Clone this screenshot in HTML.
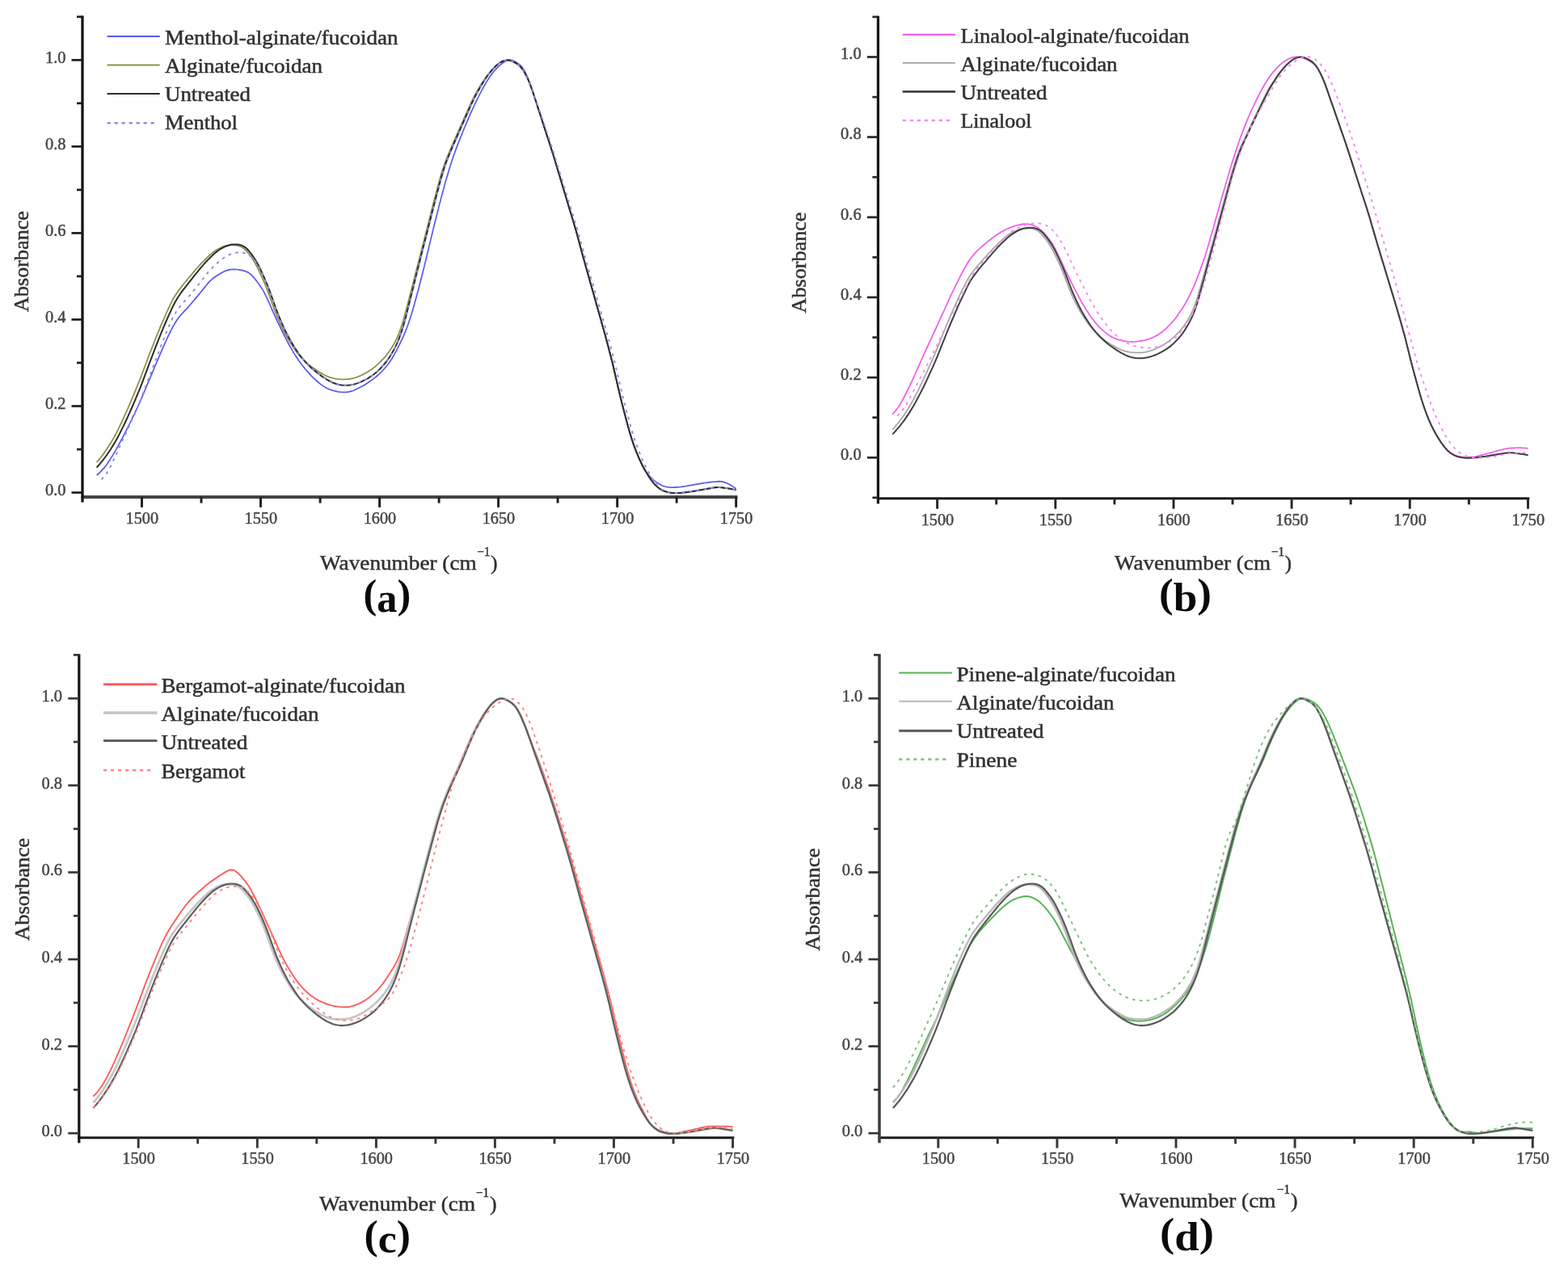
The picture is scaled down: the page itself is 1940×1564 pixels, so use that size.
<!DOCTYPE html>
<html lang="en">
<head>
<meta charset="utf-8">
<title>FTIR absorbance spectra</title>
<style>
html,body{margin:0;padding:0;background:#fff;}
body{width:1940px;height:1564px;overflow:hidden;}
svg{display:block;}
text{white-space:pre;}
</style>
</head>
<body>
<svg width="1940" height="1564" viewBox="0 0 1940 1564" role="img" aria-label="FTIR absorbance spectra, panels a to d">
<rect x="0" y="0" width="1940" height="1564" fill="#ffffff"/>
<g id="panel-a">
<g fill="none" stroke-linejoin="round" stroke-linecap="butt">
<path d="M119.6 588.1 L122.6 585.5 L125.5 582.6 L128.4 579.4 L131.4 575.7 L134.3 571.5 L137.3 566.9 L140.2 562.1 L143.2 557.1 L146.1 551.8 L149.0 546.3 L152.0 540.8 L154.9 535.1 L157.9 529.4 L160.8 523.5 L163.7 517.4 L166.7 511.3 L169.6 505.0 L172.6 498.5 L175.5 491.8 L178.4 484.8 L181.4 477.8 L184.3 470.9 L187.3 463.9 L190.2 457.0 L193.1 450.0 L196.1 443.1 L199.0 436.1 L202.0 429.3 L204.9 422.8 L207.8 416.5 L210.8 410.4 L213.7 404.7 L216.7 399.5 L219.6 395.0 L222.6 391.1 L225.5 387.8 L228.4 384.7 L231.4 381.6 L234.3 378.3 L237.3 374.8 L240.2 371.4 L243.1 367.9 L246.1 364.4 L249.0 360.8 L252.0 357.1 L254.9 353.5 L257.8 349.9 L260.8 346.8 L263.7 344.3 L266.7 342.2 L269.6 340.3 L272.5 338.5 L275.5 336.8 L278.4 335.4 L281.4 334.4 L284.3 333.7 L287.3 333.4 L290.2 333.3 L293.1 333.5 L296.1 333.9 L299.0 334.4 L302.0 335.1 L304.9 336.2 L307.8 337.6 L310.8 339.9 L313.7 343.1 L316.7 346.7 L319.6 350.6 L322.5 354.7 L325.5 359.4 L328.4 364.9 L331.4 371.1 L334.3 377.7 L337.2 384.5 L340.2 391.2 L343.1 397.6 L346.1 403.7 L349.0 409.7 L351.9 415.7 L354.9 421.4 L357.8 427.0 L360.8 432.2 L363.7 437.1 L366.7 441.7 L369.6 446.0 L372.5 450.0 L375.5 453.9 L378.4 457.5 L381.4 460.9 L384.3 464.1 L387.2 467.1 L390.2 469.9 L393.1 472.5 L396.1 474.9 L399.0 477.1 L401.9 478.9 L404.9 480.5 L407.8 481.8 L410.8 482.9 L413.7 483.7 L416.6 484.4 L419.6 484.9 L422.5 485.2 L425.5 485.3 L428.4 485.2 L431.3 484.8 L434.3 484.1 L437.2 483.2 L440.2 482.0 L443.1 480.6 L446.1 479.1 L449.0 477.5 L451.9 475.7 L454.9 473.8 L457.8 471.8 L460.8 469.6 L463.7 467.4 L466.6 465.0 L469.6 462.4 L472.5 459.5 L475.5 456.2 L478.4 452.7 L481.3 448.9 L484.3 444.7 L487.2 439.8 L490.2 434.3 L493.1 428.6 L496.0 422.6 L499.0 416.3 L501.9 409.3 L504.9 401.5 L507.8 392.7 L510.8 383.1 L513.7 372.8 L516.6 362.0 L519.6 350.8 L522.5 339.2 L525.5 327.4 L528.4 315.3 L531.3 303.1 L534.3 290.9 L537.2 278.8 L540.2 267.0 L543.1 255.4 L546.0 244.1 L549.0 233.0 L551.9 222.4 L554.9 212.4 L557.8 203.0 L560.7 194.2 L563.7 185.9 L566.6 178.1 L569.6 170.6 L572.5 163.3 L575.4 156.2 L578.4 149.2 L581.3 142.4 L584.3 135.8 L587.2 129.5 L590.2 123.4 L593.1 117.5 L596.0 111.8 L599.0 106.4 L601.9 101.4 L604.9 96.8 L607.8 92.6 L610.7 88.8 L613.7 85.3 L616.6 82.3 L619.6 79.8 L622.5 77.5 L625.4 75.7 L628.4 74.7 L631.3 74.3 L634.3 74.9 L637.2 76.2 L640.1 78.0 L643.1 80.1 L646.0 83.1 L649.0 87.7 L651.9 94.0 L654.9 101.3 L657.8 109.4 L660.7 118.2 L663.7 127.3 L666.6 136.4 L669.6 145.5 L672.5 154.6 L675.4 163.6 L678.4 172.6 L681.3 181.7 L684.3 191.0 L687.2 200.5 L690.1 210.3 L693.1 220.1 L696.0 230.0 L699.0 239.7 L701.9 249.5 L704.8 259.2 L707.8 269.0 L710.7 278.7 L713.7 289.0 L716.6 299.8 L719.5 310.8 L722.5 321.6 L725.4 332.0 L728.4 342.4 L731.3 352.9 L734.3 363.3 L737.2 373.7 L740.1 384.1 L743.1 394.5 L746.0 404.9 L749.0 415.5 L751.9 426.4 L754.8 437.5 L757.8 449.2 L760.7 461.8 L763.7 474.7 L766.6 487.1 L769.5 498.9 L772.5 510.4 L775.4 521.6 L778.4 532.3 L781.3 542.0 L784.2 550.8 L787.2 558.9 L790.1 566.3 L793.1 573.0 L796.0 578.7 L798.9 583.3 L801.9 587.1 L804.8 590.4 L807.8 593.3 L810.7 595.6 L813.7 597.6 L816.6 599.5 L819.5 601.0 L822.5 602.0 L825.4 602.6 L828.4 603.0 L831.3 603.2 L834.2 603.1 L837.2 602.8 L840.1 602.6 L843.1 602.3 L846.0 601.9 L848.9 601.5 L851.9 600.9 L854.8 600.4 L857.8 599.8 L860.7 599.3 L863.6 598.8 L866.6 598.3 L869.5 597.9 L872.5 597.5 L875.4 597.1 L878.4 596.7 L881.3 596.3 L884.2 596.0 L887.2 595.8 L890.1 595.6 L893.1 595.8 L896.0 596.6 L898.9 597.7 L901.9 599.1 L904.8 600.7 L907.8 602.6 L910.7 604.7" stroke="#5858f0" stroke-width="1.7"/>
<path d="M119.6 572.0 L122.6 568.7 L125.5 565.0 L128.4 561.1 L131.4 556.8 L134.3 552.3 L137.3 547.6 L140.2 542.6 L143.2 537.3 L146.1 531.6 L149.0 525.5 L152.0 519.2 L154.9 512.7 L157.9 506.1 L160.8 499.3 L163.7 492.3 L166.7 485.3 L169.6 478.2 L172.6 470.9 L175.5 463.3 L178.4 455.5 L181.4 447.6 L184.3 439.8 L187.3 432.2 L190.2 424.7 L193.1 417.4 L196.1 410.1 L199.0 402.9 L202.0 396.1 L204.9 389.5 L207.8 383.0 L210.8 376.7 L213.7 370.8 L216.7 365.7 L219.6 361.4 L222.6 357.4 L225.5 353.6 L228.4 350.0 L231.4 346.4 L234.3 342.8 L237.3 339.3 L240.2 335.9 L243.1 332.5 L246.1 329.2 L249.0 325.9 L252.0 322.9 L254.9 320.0 L257.8 317.2 L260.8 314.6 L263.7 312.1 L266.7 310.0 L269.6 308.2 L272.5 306.7 L275.5 305.3 L278.4 304.3 L281.4 303.6 L284.3 303.3 L287.3 303.2 L290.2 303.4 L293.1 303.7 L296.1 304.5 L299.0 305.7 L302.0 307.6 L304.9 310.4 L307.8 314.0 L310.8 318.0 L313.7 322.4 L316.7 327.5 L319.6 333.2 L322.5 339.5 L325.5 346.2 L328.4 353.2 L331.4 360.6 L334.3 368.6 L337.2 376.8 L340.2 384.9 L343.1 392.5 L346.1 399.3 L349.0 405.7 L351.9 411.5 L354.9 417.0 L357.8 421.9 L360.8 426.6 L363.7 431.0 L366.7 435.1 L369.6 438.9 L372.5 442.2 L375.5 445.2 L378.4 448.0 L381.4 450.6 L384.3 452.9 L387.2 455.1 L390.2 457.1 L393.1 459.1 L396.1 460.9 L399.0 462.6 L401.9 464.2 L404.9 465.6 L407.8 466.8 L410.8 467.7 L413.7 468.4 L416.6 468.8 L419.6 469.1 L422.5 469.3 L425.5 469.3 L428.4 469.2 L431.3 469.0 L434.3 468.6 L437.2 468.0 L440.2 467.1 L443.1 466.0 L446.1 464.8 L449.0 463.4 L451.9 461.8 L454.9 460.1 L457.8 458.2 L460.8 456.2 L463.7 454.0 L466.6 451.4 L469.6 448.6 L472.5 445.7 L475.5 442.7 L478.4 439.1 L481.3 435.2 L484.3 430.8 L487.2 426.0 L490.2 420.4 L493.1 413.8 L496.0 405.9 L499.0 396.6 L501.9 385.7 L504.9 374.5 L507.8 363.2 L510.8 351.8 L513.7 340.3 L516.6 328.8 L519.6 317.2 L522.5 305.6 L525.5 294.0 L528.4 282.4 L531.3 270.9 L534.3 259.3 L537.2 247.8 L540.2 236.5 L543.1 225.6 L546.0 215.3 L549.0 206.0 L551.9 197.8 L554.9 190.5 L557.8 183.7 L560.7 176.9 L563.7 170.2 L566.6 163.6 L569.6 156.9 L572.5 150.3 L575.4 143.7 L578.4 137.1 L581.3 130.6 L584.3 124.2 L587.2 118.3 L590.2 112.9 L593.1 107.9 L596.0 103.2 L599.0 98.7 L601.9 94.5 L604.9 90.7 L607.8 87.2 L610.7 83.9 L613.7 81.1 L616.6 78.8 L619.6 76.8 L622.5 75.4 L625.4 74.5 L628.4 74.3 L631.3 74.8 L634.3 76.0 L637.2 77.5 L640.1 79.3 L643.1 81.7 L646.0 85.0 L649.0 89.6 L651.9 95.2 L654.9 101.9 L657.8 109.6 L660.7 118.2 L663.7 127.3 L666.6 136.4 L669.6 145.5 L672.5 154.6 L675.4 163.6 L678.4 172.6 L681.3 181.7 L684.3 191.0 L687.2 200.5 L690.1 210.3 L693.1 220.1 L696.0 230.0 L699.0 239.7 L701.9 249.5 L704.8 259.2 L707.8 269.0 L710.7 278.7 L713.7 289.0 L716.6 299.8 L719.5 310.8 L722.5 321.6 L725.4 332.0 L728.4 342.4 L731.3 352.9 L734.3 363.3 L737.2 373.7 L740.1 384.1 L743.1 394.5 L746.0 404.9 L749.0 415.5 L751.9 426.4 L754.8 437.5 L757.8 449.2 L760.7 461.8 L763.7 474.7 L766.6 487.1 L769.5 498.9 L772.5 510.4 L775.4 521.6 L778.4 532.4 L781.3 542.1 L784.2 550.9 L787.2 558.7 L790.1 565.8 L793.1 572.2 L796.0 578.0 L798.9 583.3 L801.9 588.2 L804.8 592.7 L807.8 596.7 L810.7 600.1 L813.7 602.8 L816.6 605.0 L819.5 606.7 L822.5 607.9 L825.4 608.7 L828.4 609.4 L831.3 609.9 L834.2 610.0 L837.2 610.0 L840.1 610.0 L843.1 609.8 L846.0 609.5 L848.9 609.1 L851.9 608.7 L854.8 608.3 L857.8 607.8 L860.7 607.4 L863.6 606.8 L866.6 606.3 L869.5 605.8 L872.5 605.2 L875.4 604.7 L878.4 604.2 L881.3 603.7 L884.2 603.3 L887.2 603.1 L890.1 603.1 L893.1 603.3 L896.0 603.7 L898.9 604.1 L901.9 604.6 L904.8 605.1 L907.8 605.7 L910.7 606.3" stroke="#90904c" stroke-width="1.8"/>
<path d="M119.6 578.5 L122.6 575.2 L125.5 571.7 L128.4 568.0 L131.4 564.0 L134.3 559.7 L137.3 555.2 L140.2 550.5 L143.2 545.5 L146.1 540.2 L149.0 534.6 L152.0 528.6 L154.9 522.5 L157.9 516.2 L160.8 509.7 L163.7 503.0 L166.7 496.2 L169.6 489.2 L172.6 482.1 L175.5 474.6 L178.4 466.8 L181.4 458.9 L184.3 450.9 L187.3 443.1 L190.2 435.4 L193.1 427.9 L196.1 420.4 L199.0 413.1 L202.0 405.9 L204.9 399.0 L207.8 392.3 L210.8 385.8 L213.7 379.5 L216.7 373.7 L219.6 368.7 L222.6 364.3 L225.5 360.2 L228.4 356.4 L231.4 352.6 L234.3 348.8 L237.3 345.1 L240.2 341.4 L243.1 337.8 L246.1 334.2 L249.0 330.7 L252.0 327.2 L254.9 324.0 L257.8 320.9 L260.8 318.0 L263.7 315.1 L266.7 312.6 L269.6 310.3 L272.5 308.3 L275.5 306.6 L278.4 305.1 L281.4 304.0 L284.3 303.1 L287.3 302.6 L290.2 302.4 L293.1 302.4 L296.1 302.8 L299.0 303.6 L302.0 305.1 L304.9 307.2 L307.8 310.3 L310.8 314.1 L313.7 318.2 L316.7 322.8 L319.6 328.0 L322.5 333.9 L325.5 340.3 L328.4 347.1 L331.4 354.2 L334.3 361.8 L337.2 370.0 L340.2 378.3 L343.1 386.3 L346.1 393.8 L349.0 400.7 L351.9 407.1 L354.9 413.0 L357.8 418.6 L360.8 423.8 L363.7 428.7 L366.7 433.3 L369.6 437.7 L372.5 441.6 L375.5 445.2 L378.4 448.4 L381.4 451.5 L384.3 454.4 L387.2 457.0 L390.2 459.4 L393.1 461.7 L396.1 463.9 L399.0 466.1 L401.9 468.0 L404.9 469.9 L407.8 471.5 L410.8 473.0 L413.7 474.3 L416.6 475.3 L419.6 476.0 L422.5 476.5 L425.5 476.8 L428.4 476.8 L431.3 476.7 L434.3 476.3 L437.2 475.7 L440.2 474.9 L443.1 473.9 L446.1 472.7 L449.0 471.4 L451.9 469.9 L454.9 468.3 L457.8 466.4 L460.8 464.5 L463.7 462.3 L466.6 459.9 L469.6 457.0 L472.5 453.8 L475.5 450.5 L478.4 447.0 L481.3 442.8 L484.3 438.1 L487.2 432.9 L490.2 427.1 L493.1 420.4 L496.0 412.6 L499.0 403.5 L501.9 392.7 L504.9 381.1 L507.8 369.2 L510.8 357.4 L513.7 345.6 L516.6 333.9 L519.6 322.3 L522.5 310.6 L525.5 299.0 L528.4 287.5 L531.3 275.9 L534.3 264.3 L537.2 252.7 L540.2 241.3 L543.1 230.2 L546.0 219.6 L549.0 209.7 L551.9 201.1 L554.9 193.5 L557.8 186.5 L560.7 179.7 L563.7 173.0 L566.6 166.3 L569.6 159.6 L572.5 153.0 L575.4 146.4 L578.4 139.8 L581.3 133.2 L584.3 126.7 L587.2 120.6 L590.2 114.9 L593.1 109.7 L596.0 104.7 L599.0 100.0 L601.9 95.5 L604.9 91.5 L607.8 87.8 L610.7 84.5 L613.7 81.5 L616.6 79.0 L619.6 77.0 L622.5 75.5 L625.4 74.6 L628.4 74.3 L631.3 74.8 L634.3 76.0 L637.2 77.5 L640.1 79.3 L643.1 81.7 L646.0 85.0 L649.0 89.6 L651.9 95.2 L654.9 101.9 L657.8 109.6 L660.7 118.2 L663.7 127.3 L666.6 136.4 L669.6 145.5 L672.5 154.6 L675.4 163.6 L678.4 172.6 L681.3 181.7 L684.3 191.0 L687.2 200.5 L690.1 210.3 L693.1 220.1 L696.0 230.0 L699.0 239.7 L701.9 249.5 L704.8 259.2 L707.8 269.0 L710.7 278.7 L713.7 289.0 L716.6 299.8 L719.5 310.8 L722.5 321.6 L725.4 332.0 L728.4 342.4 L731.3 352.9 L734.3 363.3 L737.2 373.7 L740.1 384.1 L743.1 394.5 L746.0 404.9 L749.0 415.5 L751.9 426.4 L754.8 437.5 L757.8 449.2 L760.7 461.8 L763.7 474.7 L766.6 487.1 L769.5 498.9 L772.5 510.4 L775.4 521.6 L778.4 532.4 L781.3 542.1 L784.2 550.9 L787.2 558.7 L790.1 565.8 L793.1 572.2 L796.0 578.0 L798.9 583.3 L801.9 588.2 L804.8 592.7 L807.8 596.7 L810.7 600.1 L813.7 602.8 L816.6 605.0 L819.5 606.7 L822.5 607.9 L825.4 608.7 L828.4 609.4 L831.3 609.9 L834.2 610.0 L837.2 610.0 L840.1 610.0 L843.1 609.8 L846.0 609.5 L848.9 609.1 L851.9 608.7 L854.8 608.3 L857.8 607.8 L860.7 607.4 L863.6 606.8 L866.6 606.3 L869.5 605.8 L872.5 605.2 L875.4 604.7 L878.4 604.2 L881.3 603.7 L884.2 603.3 L887.2 603.1 L890.1 603.1 L893.1 603.3 L896.0 603.7 L898.9 604.1 L901.9 604.6 L904.8 605.1 L907.8 605.7 L910.7 606.3" stroke="#2c2c2c" stroke-width="2.0"/>
<path d="M125.5 593.4 L128.4 590.2 L131.4 586.5 L134.3 582.0 L137.3 576.3 L140.2 569.9 L143.2 563.5 L146.1 557.1 L149.0 550.6 L152.0 544.2 L154.9 537.8 L157.9 531.4 L160.8 524.9 L163.7 518.5 L166.7 512.0 L169.6 505.3 L172.6 498.2 L175.5 490.7 L178.4 482.9 L181.4 475.2 L184.3 467.4 L187.3 459.6 L190.2 451.9 L193.1 444.1 L196.1 436.4 L199.0 428.6 L202.0 421.0 L204.9 413.6 L207.8 406.5 L210.8 399.7 L213.7 393.4 L216.7 387.9 L219.6 383.3 L222.6 379.4 L225.5 376.0 L228.4 372.7 L231.4 369.4 L234.3 366.0 L237.3 362.4 L240.2 358.8 L243.1 355.2 L246.1 351.5 L249.0 347.8 L252.0 344.0 L254.9 340.2 L257.8 336.5 L260.8 333.2 L263.7 330.2 L266.7 327.4 L269.6 324.8 L272.5 322.3 L275.5 320.0 L278.4 318.0 L281.4 316.2 L284.3 314.8 L287.3 313.7 L290.2 313.0 L293.1 312.5 L296.1 312.3 L299.0 312.5 L302.0 313.0 L304.9 314.0 L307.8 315.7 L310.8 317.8 L313.7 320.6 L316.7 324.4 L319.6 329.1 L322.5 334.6 L325.5 340.6 L328.4 347.2 L331.4 354.2 L334.3 361.8 L337.2 370.0 L340.2 378.3 L343.1 386.4 L346.1 393.8 L349.0 400.6 L351.9 407.0 L354.9 413.0 L357.8 418.6 L360.8 423.8 L363.7 428.7 L366.7 433.3 L369.6 437.7 L372.5 441.6 L375.5 445.2 L378.4 448.4 L381.4 451.5 L384.3 454.4 L387.2 457.0 L390.2 459.4 L393.1 461.7 L396.1 463.9 L399.0 466.1 L401.9 468.0 L404.9 469.9 L407.8 471.5 L410.8 473.0 L413.7 474.3 L416.6 475.3 L419.6 476.0 L422.5 476.5 L425.5 476.8 L428.4 476.8 L431.3 476.7 L434.3 476.3 L437.2 475.7 L440.2 474.9 L443.1 473.9 L446.1 472.7 L449.0 471.4 L451.9 469.9 L454.9 468.3 L457.8 466.4 L460.8 464.5 L463.7 462.3 L466.6 459.9 L469.6 457.0 L472.5 453.8 L475.5 450.5 L478.4 447.0 L481.3 442.8 L484.3 438.1 L487.2 432.9 L490.2 427.1 L493.1 420.4 L496.0 412.6 L499.0 403.5 L501.9 392.7 L504.9 381.1 L507.8 369.2 L510.8 357.4 L513.7 345.6 L516.6 333.9 L519.6 322.3 L522.5 310.6 L525.5 299.0 L528.4 287.5 L531.3 275.9 L534.3 264.3 L537.2 252.7 L540.2 241.3 L543.1 230.2 L546.0 219.6 L549.0 209.7 L551.9 201.1 L554.9 193.5 L557.8 186.5 L560.7 179.7 L563.7 173.0 L566.6 166.3 L569.6 159.6 L572.5 153.0 L575.4 146.4 L578.4 139.8 L581.3 133.2 L584.3 126.7 L587.2 120.6 L590.2 114.9 L593.1 109.7 L596.0 104.7 L599.0 100.0 L601.9 95.5 L604.9 91.5 L607.8 87.8 L610.7 84.5 L613.7 81.5 L616.6 79.0 L619.6 77.0 L622.5 75.5 L625.4 74.6 L628.4 74.3 L631.3 74.8 L634.3 76.0 L637.2 77.5 L640.1 79.2 L643.1 81.5 L646.0 84.9 L649.0 89.8 L651.9 95.8 L654.9 102.7 L657.8 110.2 L660.7 118.2 L663.7 126.3 L666.6 134.5 L669.6 142.8 L672.5 151.3 L675.4 160.0 L678.4 168.7 L681.3 177.4 L684.3 186.5 L687.2 196.0 L690.1 205.5 L693.1 215.0 L696.0 224.5 L699.0 234.0 L701.9 243.5 L704.8 253.0 L707.8 262.6 L710.7 272.1 L713.7 281.6 L716.6 291.8 L719.5 302.5 L722.5 313.2 L725.4 323.6 L728.4 333.8 L731.3 344.0 L734.3 354.1 L737.2 364.3 L740.1 374.6 L743.1 384.8 L746.0 395.1 L749.0 405.3 L751.9 415.8 L754.8 426.5 L757.8 437.5 L760.7 448.9 L763.7 461.3 L766.6 474.0 L769.5 486.3 L772.5 498.0 L775.4 509.4 L778.4 520.4 L781.3 531.1 L784.2 540.8 L787.2 549.6 L790.1 557.5 L793.1 564.7 L796.0 571.3 L798.9 577.4 L801.9 583.1 L804.8 588.3 L807.8 593.2 L810.7 597.5 L813.7 600.9 L816.6 603.7 L819.5 605.9 L822.5 607.5 L825.4 608.4 L828.4 609.2 L831.3 609.8 L834.2 610.0 L837.2 610.0 L840.1 610.0 L843.1 609.8 L846.0 609.5 L848.9 609.1 L851.9 608.7 L854.8 608.3 L857.8 607.8 L860.7 607.4 L863.6 606.8 L866.6 606.3 L869.5 605.8 L872.5 605.2 L875.4 604.7 L878.4 604.2 L881.3 603.7 L884.2 603.3 L887.2 603.1 L890.1 603.1 L893.1 603.3 L896.0 603.7 L898.9 604.1 L901.9 604.6 L904.8 605.1 L907.8 605.7 L910.7 606.3" stroke="#8c8ce8" stroke-width="1.9" stroke-dasharray="3.6 5.4"/>
</g>
<g stroke-linecap="butt">
<line x1="100.5" y1="615.0" x2="912.5" y2="615.0" stroke="#444444" stroke-width="3.8"/>
<line x1="102.0" y1="19.6" x2="102.0" y2="621.5" stroke="#141414" stroke-width="3.3"/>
<line x1="88.5" y1="609.5" x2="102.0" y2="609.5" stroke="#1c1c1c" stroke-width="2.7"/>
<line x1="95.0" y1="556.0" x2="102.0" y2="556.0" stroke="#1c1c1c" stroke-width="2.7"/>
<line x1="88.5" y1="502.5" x2="102.0" y2="502.5" stroke="#1c1c1c" stroke-width="2.7"/>
<line x1="95.0" y1="448.9" x2="102.0" y2="448.9" stroke="#1c1c1c" stroke-width="2.7"/>
<line x1="88.5" y1="395.4" x2="102.0" y2="395.4" stroke="#1c1c1c" stroke-width="2.7"/>
<line x1="95.0" y1="341.9" x2="102.0" y2="341.9" stroke="#1c1c1c" stroke-width="2.7"/>
<line x1="88.5" y1="288.4" x2="102.0" y2="288.4" stroke="#1c1c1c" stroke-width="2.7"/>
<line x1="95.0" y1="234.9" x2="102.0" y2="234.9" stroke="#1c1c1c" stroke-width="2.7"/>
<line x1="88.5" y1="181.3" x2="102.0" y2="181.3" stroke="#1c1c1c" stroke-width="2.7"/>
<line x1="95.0" y1="127.8" x2="102.0" y2="127.8" stroke="#1c1c1c" stroke-width="2.7"/>
<line x1="88.5" y1="74.3" x2="102.0" y2="74.3" stroke="#1c1c1c" stroke-width="2.7"/>
<line x1="95.0" y1="20.8" x2="102.0" y2="20.8" stroke="#1c1c1c" stroke-width="2.7"/>
<line x1="175.5" y1="615.0" x2="175.5" y2="627.8" stroke="#1c1c1c" stroke-width="2.9"/>
<line x1="249.0" y1="615.0" x2="249.0" y2="622.5" stroke="#1c1c1c" stroke-width="2.9"/>
<line x1="322.5" y1="615.0" x2="322.5" y2="627.8" stroke="#1c1c1c" stroke-width="2.9"/>
<line x1="396.1" y1="615.0" x2="396.1" y2="622.5" stroke="#1c1c1c" stroke-width="2.9"/>
<line x1="469.6" y1="615.0" x2="469.6" y2="627.8" stroke="#1c1c1c" stroke-width="2.9"/>
<line x1="543.1" y1="615.0" x2="543.1" y2="622.5" stroke="#1c1c1c" stroke-width="2.9"/>
<line x1="616.6" y1="615.0" x2="616.6" y2="627.8" stroke="#1c1c1c" stroke-width="2.9"/>
<line x1="690.1" y1="615.0" x2="690.1" y2="622.5" stroke="#1c1c1c" stroke-width="2.9"/>
<line x1="763.7" y1="615.0" x2="763.7" y2="627.8" stroke="#1c1c1c" stroke-width="2.9"/>
<line x1="837.2" y1="615.0" x2="837.2" y2="622.5" stroke="#1c1c1c" stroke-width="2.9"/>
<line x1="910.7" y1="615.0" x2="910.7" y2="627.8" stroke="#1c1c1c" stroke-width="2.9"/>
</g>
<g font-family='"Liberation Serif", "DejaVu Serif", serif' font-size="21.5" fill="#454545" stroke="#454545" stroke-width="0.5">
<text x="81.5" y="613.1" text-anchor="end" textLength="25.5" lengthAdjust="spacingAndGlyphs">0.0</text>
<text x="81.5" y="506.1" text-anchor="end" textLength="25.5" lengthAdjust="spacingAndGlyphs">0.2</text>
<text x="81.5" y="399.0" text-anchor="end" textLength="25.5" lengthAdjust="spacingAndGlyphs">0.4</text>
<text x="81.5" y="292.0" text-anchor="end" textLength="25.5" lengthAdjust="spacingAndGlyphs">0.6</text>
<text x="81.5" y="184.9" text-anchor="end" textLength="25.5" lengthAdjust="spacingAndGlyphs">0.8</text>
<text x="81.5" y="77.9" text-anchor="end" textLength="25.5" lengthAdjust="spacingAndGlyphs">1.0</text>
<text x="175.8" y="647.8" text-anchor="middle" textLength="40.5" lengthAdjust="spacingAndGlyphs">1500</text>
<text x="322.8" y="647.8" text-anchor="middle" textLength="40.5" lengthAdjust="spacingAndGlyphs">1550</text>
<text x="469.9" y="647.8" text-anchor="middle" textLength="40.5" lengthAdjust="spacingAndGlyphs">1600</text>
<text x="616.9" y="647.8" text-anchor="middle" textLength="40.5" lengthAdjust="spacingAndGlyphs">1650</text>
<text x="764.0" y="647.8" text-anchor="middle" textLength="40.5" lengthAdjust="spacingAndGlyphs">1700</text>
<text x="911.0" y="647.8" text-anchor="middle" textLength="40.5" lengthAdjust="spacingAndGlyphs">1750</text>
</g>
<line x1="132.6" y1="45.1" x2="197.7" y2="45.1" stroke="#5858f0" stroke-width="2.0"/>
<line x1="132.6" y1="80.4" x2="197.7" y2="80.4" stroke="#90904c" stroke-width="2.0"/>
<line x1="132.6" y1="115.9" x2="197.7" y2="115.9" stroke="#2c2c2c" stroke-width="2.0"/>
<line x1="132.6" y1="152.2" x2="193.6" y2="152.2" stroke="#8c8ce8" stroke-width="2.4" stroke-dasharray="4.2 4.8"/>
<g font-family='"Liberation Serif", "DejaVu Serif", serif' font-size="25.3" fill="#303030" stroke="#303030" stroke-width="0.5">
<text x="204.0" y="55.0" textLength="288.5" lengthAdjust="spacingAndGlyphs">Menthol-alginate/fucoidan</text>
<text x="204.0" y="90.0" textLength="195.0" lengthAdjust="spacingAndGlyphs">Alginate/fucoidan</text>
<text x="204.0" y="125.2" textLength="106.0" lengthAdjust="spacingAndGlyphs">Untreated</text>
<text x="204.0" y="160.2" textLength="90.0" lengthAdjust="spacingAndGlyphs">Menthol</text>
</g>
<g font-family='"Liberation Serif", "DejaVu Serif", serif' fill="#303030" stroke="#303030" stroke-width="0.45">
<text transform="translate(34.5 323.5) rotate(-90)" text-anchor="middle" font-size="26" textLength="125.0" lengthAdjust="spacingAndGlyphs">Absorbance</text>
<text font-size="25.6"><tspan x="396.1" y="705.2" textLength="193.6" lengthAdjust="spacingAndGlyphs">Wavenumber (cm</tspan><tspan x="590.6" y="688.2" font-size="16" textLength="15.8" lengthAdjust="spacingAndGlyphs">−1</tspan><tspan x="607.1" y="705.2">)</tspan></text>
</g>
<text x="449.5" y="757.0" font-family='"Liberation Serif", "DejaVu Serif", serif' font-size="50" font-weight="bold" fill="#0a0a0a" textLength="58.7" lengthAdjust="spacingAndGlyphs"><tspan dy="-5">(</tspan><tspan dy="5">a</tspan><tspan dy="-5">)</tspan></text>
</g>
<g id="panel-b">
<g fill="none" stroke-linejoin="round" stroke-linecap="butt">
<path d="M1104.1 512.7 L1107.0 509.5 L1109.9 506.0 L1112.8 501.8 L1115.7 496.8 L1118.7 491.2 L1121.6 485.5 L1124.5 479.6 L1127.4 473.4 L1130.4 467.1 L1133.3 460.5 L1136.2 453.9 L1139.1 447.3 L1142.1 440.8 L1145.0 434.3 L1147.9 428.0 L1150.8 421.6 L1153.8 415.3 L1156.7 409.0 L1159.6 402.6 L1162.5 396.2 L1165.4 389.8 L1168.4 383.3 L1171.3 376.8 L1174.2 370.4 L1177.1 364.1 L1180.1 358.1 L1183.0 352.2 L1185.9 346.4 L1188.8 340.7 L1191.8 335.0 L1194.7 329.7 L1197.6 324.7 L1200.5 320.3 L1203.5 316.5 L1206.4 313.1 L1209.3 310.2 L1212.2 307.4 L1215.1 304.9 L1218.1 302.3 L1221.0 299.9 L1223.9 297.5 L1226.8 295.3 L1229.8 293.1 L1232.7 291.1 L1235.6 289.1 L1238.5 287.3 L1241.5 285.6 L1244.4 284.0 L1247.3 282.7 L1250.2 281.5 L1253.2 280.4 L1256.1 279.5 L1259.0 278.7 L1261.9 278.0 L1264.8 277.5 L1267.8 277.2 L1270.7 277.2 L1273.6 277.5 L1276.5 278.2 L1279.5 279.2 L1282.4 280.8 L1285.3 282.7 L1288.2 285.0 L1291.2 287.8 L1294.1 291.1 L1297.0 294.7 L1299.9 298.6 L1302.9 303.1 L1305.8 308.4 L1308.7 314.4 L1311.6 320.6 L1314.6 326.9 L1317.5 333.1 L1320.4 339.2 L1323.3 345.0 L1326.2 350.9 L1329.2 356.6 L1332.1 362.3 L1335.0 367.9 L1337.9 373.3 L1340.9 378.3 L1343.8 383.0 L1346.7 387.4 L1349.6 391.7 L1352.6 395.7 L1355.5 399.4 L1358.4 402.8 L1361.3 405.8 L1364.3 408.6 L1367.2 411.1 L1370.1 413.4 L1373.0 415.4 L1375.9 417.1 L1378.9 418.5 L1381.8 419.6 L1384.7 420.6 L1387.6 421.4 L1390.6 422.0 L1393.5 422.4 L1396.4 422.7 L1399.3 422.8 L1402.3 422.8 L1405.2 422.7 L1408.1 422.4 L1411.0 422.0 L1414.0 421.5 L1416.9 420.8 L1419.8 419.9 L1422.7 419.0 L1425.6 417.8 L1428.6 416.5 L1431.5 414.9 L1434.4 413.0 L1437.3 411.0 L1440.3 408.8 L1443.2 406.1 L1446.1 403.2 L1449.0 400.0 L1452.0 396.7 L1454.9 393.1 L1457.8 389.1 L1460.7 384.8 L1463.7 380.2 L1466.6 375.4 L1469.5 370.1 L1472.4 364.4 L1475.3 358.1 L1478.3 351.4 L1481.2 344.1 L1484.1 336.5 L1487.0 328.4 L1490.0 319.9 L1492.9 310.8 L1495.8 301.0 L1498.7 290.7 L1501.7 280.3 L1504.6 269.7 L1507.5 259.2 L1510.4 249.0 L1513.4 238.8 L1516.3 228.8 L1519.2 218.9 L1522.1 209.1 L1525.0 199.4 L1528.0 190.1 L1530.9 181.2 L1533.8 172.9 L1536.7 164.9 L1539.7 157.2 L1542.6 149.9 L1545.5 143.0 L1548.4 136.4 L1551.4 130.1 L1554.3 124.0 L1557.2 118.2 L1560.1 112.6 L1563.1 107.3 L1566.0 102.4 L1568.9 97.8 L1571.8 93.6 L1574.8 89.7 L1577.7 86.3 L1580.6 83.2 L1583.5 80.4 L1586.4 77.9 L1589.4 75.8 L1592.3 73.9 L1595.2 72.5 L1598.1 71.4 L1601.1 70.7 L1604.0 70.5 L1606.9 70.7 L1609.8 71.2 L1612.8 72.0 L1615.7 73.2 L1618.6 74.8 L1621.5 76.4 L1624.5 78.3 L1627.4 80.8 L1630.3 84.4 L1633.2 89.4 L1636.1 95.7 L1639.1 103.0 L1642.0 111.1 L1644.9 119.6 L1647.8 128.0 L1650.8 136.4 L1653.7 144.9 L1656.6 153.2 L1659.5 161.6 L1662.5 170.0 L1665.4 178.6 L1668.3 187.4 L1671.2 196.4 L1674.2 205.6 L1677.1 214.7 L1680.0 223.7 L1682.9 232.8 L1685.8 241.8 L1688.8 250.8 L1691.7 259.9 L1694.6 269.3 L1697.5 279.4 L1700.5 289.6 L1703.4 299.5 L1706.3 309.2 L1709.2 318.9 L1712.2 328.5 L1715.1 338.2 L1718.0 347.8 L1720.9 357.4 L1723.9 367.1 L1726.8 376.7 L1729.7 386.6 L1732.6 396.6 L1735.5 406.9 L1738.5 417.7 L1741.4 429.4 L1744.3 441.3 L1747.2 452.8 L1750.2 463.8 L1753.1 474.4 L1756.0 484.8 L1758.9 494.8 L1761.9 503.8 L1764.8 511.9 L1767.7 519.2 L1770.6 525.7 L1773.6 531.6 L1776.5 537.0 L1779.4 541.9 L1782.3 546.5 L1785.3 550.7 L1788.2 554.4 L1791.1 557.5 L1794.0 559.9 L1796.9 561.8 L1799.9 563.3 L1802.8 564.2 L1805.7 564.8 L1808.6 565.3 L1811.6 565.7 L1814.5 565.7 L1817.4 565.6 L1820.3 565.5 L1823.3 565.3 L1826.2 564.9 L1829.1 564.2 L1832.0 563.4 L1835.0 562.6 L1837.9 561.8 L1840.8 561.0 L1843.7 560.3 L1846.6 559.5 L1849.6 558.7 L1852.5 557.9 L1855.4 557.1 L1858.3 556.3 L1861.3 555.6 L1864.2 555.1 L1867.1 554.7 L1870.0 554.5 L1873.0 554.3 L1875.9 554.2 L1878.8 554.1 L1881.7 554.2 L1884.7 554.3 L1887.6 554.5 L1890.5 554.8" stroke="#f060f0" stroke-width="1.8"/>
<path d="M1104.1 531.5 L1107.0 528.4 L1109.9 525.0 L1112.8 521.3 L1115.7 517.4 L1118.7 513.2 L1121.6 508.8 L1124.5 504.2 L1127.4 499.3 L1130.4 494.0 L1133.3 488.4 L1136.2 482.6 L1139.1 476.6 L1142.1 470.4 L1145.0 464.1 L1147.9 457.7 L1150.8 451.2 L1153.8 444.6 L1156.7 437.8 L1159.6 430.8 L1162.5 423.6 L1165.4 416.2 L1168.4 409.0 L1171.3 402.0 L1174.2 395.1 L1177.1 388.2 L1180.1 381.5 L1183.0 374.9 L1185.9 368.5 L1188.8 362.4 L1191.8 356.4 L1194.7 350.6 L1197.6 345.1 L1200.5 340.4 L1203.5 336.4 L1206.4 332.7 L1209.3 329.2 L1212.2 325.8 L1215.1 322.5 L1218.1 319.2 L1221.0 316.0 L1223.9 312.8 L1226.8 309.7 L1229.8 306.6 L1232.7 303.6 L1235.6 300.7 L1238.5 298.0 L1241.5 295.5 L1244.4 293.0 L1247.3 290.8 L1250.2 288.8 L1253.2 287.2 L1256.1 285.7 L1259.0 284.5 L1261.9 283.5 L1264.8 282.9 L1267.8 282.6 L1270.7 282.5 L1273.6 282.7 L1276.5 283.0 L1279.5 283.7 L1282.4 284.8 L1285.3 286.6 L1288.2 289.2 L1291.2 292.6 L1294.1 296.2 L1297.0 300.3 L1299.9 305.0 L1302.9 310.3 L1305.8 316.1 L1308.7 322.3 L1311.6 328.8 L1314.6 335.6 L1317.5 343.1 L1320.4 350.7 L1323.3 358.2 L1326.2 365.2 L1329.2 371.6 L1332.1 377.4 L1335.0 382.9 L1337.9 387.9 L1340.9 392.5 L1343.8 396.8 L1346.7 400.9 L1349.6 404.7 L1352.6 408.1 L1355.5 411.2 L1358.4 414.0 L1361.3 416.6 L1364.3 419.0 L1367.2 421.2 L1370.1 423.2 L1373.0 425.1 L1375.9 426.9 L1378.9 428.6 L1381.8 430.2 L1384.7 431.7 L1387.6 433.0 L1390.6 434.1 L1393.5 434.9 L1396.4 435.5 L1399.3 435.9 L1402.3 436.2 L1405.2 436.3 L1408.1 436.4 L1411.0 436.3 L1414.0 436.1 L1416.9 435.7 L1419.8 435.1 L1422.7 434.3 L1425.6 433.3 L1428.6 432.1 L1431.5 430.8 L1434.4 429.4 L1437.3 427.8 L1440.3 426.0 L1443.2 424.2 L1446.1 422.1 L1449.0 419.8 L1452.0 417.2 L1454.9 414.5 L1457.8 411.7 L1460.7 408.4 L1463.7 404.7 L1466.6 400.7 L1469.5 396.2 L1472.4 391.0 L1475.3 384.9 L1478.3 377.7 L1481.2 369.0 L1484.1 358.9 L1487.0 348.5 L1490.0 338.0 L1492.9 327.5 L1495.8 316.9 L1498.7 306.2 L1501.7 295.5 L1504.6 284.7 L1507.5 274.0 L1510.4 263.3 L1513.4 252.5 L1516.3 241.9 L1519.2 231.2 L1522.1 220.7 L1525.0 210.6 L1528.0 201.1 L1530.9 192.4 L1533.8 184.9 L1536.7 178.1 L1539.7 171.8 L1542.6 165.6 L1545.5 159.4 L1548.4 153.2 L1551.4 147.0 L1554.3 140.9 L1557.2 134.8 L1560.1 128.7 L1563.1 122.7 L1566.0 116.7 L1568.9 111.3 L1571.8 106.3 L1574.8 101.7 L1577.7 97.3 L1580.6 93.1 L1583.5 89.2 L1586.4 85.7 L1589.4 82.4 L1592.3 79.4 L1595.2 76.8 L1598.1 74.6 L1601.1 72.8 L1604.0 71.5 L1606.9 70.7 L1609.8 70.5 L1612.8 71.0 L1615.7 72.1 L1618.6 73.5 L1621.5 75.1 L1624.5 77.4 L1627.4 80.4 L1630.3 84.6 L1633.2 89.9 L1636.1 96.0 L1639.1 103.1 L1642.0 111.1 L1644.9 119.6 L1647.8 128.0 L1650.8 136.4 L1653.7 144.9 L1656.6 153.2 L1659.5 161.6 L1662.5 170.0 L1665.4 178.6 L1668.3 187.4 L1671.2 196.4 L1674.2 205.6 L1677.1 214.7 L1680.0 223.7 L1682.9 232.8 L1685.8 241.8 L1688.8 250.8 L1691.7 259.9 L1694.6 269.3 L1697.5 279.4 L1700.5 289.6 L1703.4 299.5 L1706.3 309.2 L1709.2 318.9 L1712.2 328.5 L1715.1 338.2 L1718.0 347.8 L1720.9 357.4 L1723.9 367.1 L1726.8 376.7 L1729.7 386.6 L1732.6 396.6 L1735.5 406.9 L1738.5 417.7 L1741.4 429.4 L1744.3 441.3 L1747.2 452.8 L1750.2 463.8 L1753.1 474.4 L1756.0 484.8 L1758.9 494.8 L1761.9 503.8 L1764.8 511.9 L1767.7 519.2 L1770.6 525.7 L1773.6 531.7 L1776.5 537.0 L1779.4 541.9 L1782.3 546.5 L1785.3 550.6 L1788.2 554.4 L1791.1 557.5 L1794.0 560.0 L1796.9 562.0 L1799.9 563.6 L1802.8 564.7 L1805.7 565.5 L1808.6 566.1 L1811.6 566.5 L1814.5 566.7 L1817.4 566.7 L1820.3 566.6 L1823.3 566.5 L1826.2 566.2 L1829.1 565.8 L1832.0 565.5 L1835.0 565.1 L1837.9 564.7 L1840.8 564.2 L1843.7 563.7 L1846.6 563.2 L1849.6 562.7 L1852.5 562.2 L1855.4 561.7 L1858.3 561.3 L1861.3 560.8 L1864.2 560.5 L1867.1 560.3 L1870.0 560.2 L1873.0 560.5 L1875.9 560.8 L1878.8 561.2 L1881.7 561.7 L1884.7 562.1 L1887.6 562.6 L1890.5 563.2" stroke="#a4a4a4" stroke-width="1.7"/>
<path d="M1104.1 537.4 L1107.0 534.5 L1109.9 531.2 L1112.8 527.8 L1115.7 524.0 L1118.7 520.1 L1121.6 515.9 L1124.5 511.6 L1127.4 506.9 L1130.4 502.0 L1133.3 496.8 L1136.2 491.3 L1139.1 485.6 L1142.1 479.8 L1145.0 473.8 L1147.9 467.6 L1150.8 461.2 L1153.8 454.8 L1156.7 448.2 L1159.6 441.3 L1162.5 434.1 L1165.4 426.7 L1168.4 419.3 L1171.3 412.0 L1174.2 405.0 L1177.1 398.0 L1180.1 391.1 L1183.0 384.3 L1185.9 377.6 L1188.8 371.3 L1191.8 365.1 L1194.7 359.0 L1197.6 353.1 L1200.5 347.8 L1203.5 343.1 L1206.4 339.1 L1209.3 335.3 L1212.2 331.7 L1215.1 328.2 L1218.1 324.8 L1221.0 321.3 L1223.9 317.9 L1226.8 314.6 L1229.8 311.2 L1232.7 307.9 L1235.6 304.8 L1238.5 301.7 L1241.5 298.9 L1244.4 296.2 L1247.3 293.6 L1250.2 291.2 L1253.2 289.1 L1256.1 287.3 L1259.0 285.6 L1261.9 284.3 L1264.8 283.2 L1267.8 282.4 L1270.7 281.9 L1273.6 281.7 L1276.5 281.8 L1279.5 282.1 L1282.4 282.9 L1285.3 284.2 L1288.2 286.3 L1291.2 289.1 L1294.1 292.6 L1297.0 296.4 L1299.9 300.6 L1302.9 305.5 L1305.8 310.9 L1308.7 316.9 L1311.6 323.2 L1314.6 329.8 L1317.5 336.8 L1320.4 344.3 L1323.3 352.0 L1326.2 359.5 L1329.2 366.4 L1332.1 372.8 L1335.0 378.7 L1337.9 384.2 L1340.9 389.4 L1343.8 394.2 L1346.7 398.7 L1349.6 403.0 L1352.6 407.0 L1355.5 410.7 L1358.4 414.0 L1361.3 417.0 L1364.3 419.9 L1367.2 422.5 L1370.1 424.9 L1373.0 427.2 L1375.9 429.3 L1378.9 431.4 L1381.8 433.4 L1384.7 435.2 L1387.6 436.9 L1390.6 438.4 L1393.5 439.8 L1396.4 441.0 L1399.3 441.9 L1402.3 442.5 L1405.2 443.0 L1408.1 443.3 L1411.0 443.3 L1414.0 443.2 L1416.9 442.8 L1419.8 442.3 L1422.7 441.5 L1425.6 440.6 L1428.6 439.5 L1431.5 438.3 L1434.4 436.9 L1437.3 435.4 L1440.3 433.7 L1443.2 431.9 L1446.1 429.9 L1449.0 427.6 L1452.0 424.9 L1454.9 422.0 L1457.8 419.0 L1460.7 415.6 L1463.7 411.8 L1466.6 407.4 L1469.5 402.6 L1472.4 397.2 L1475.3 391.1 L1478.3 383.8 L1481.2 375.4 L1484.1 365.4 L1487.0 354.6 L1490.0 343.7 L1492.9 332.7 L1495.8 321.8 L1498.7 310.9 L1501.7 300.2 L1504.6 289.4 L1507.5 278.7 L1510.4 267.9 L1513.4 257.2 L1516.3 246.5 L1519.2 235.8 L1522.1 225.2 L1525.0 214.9 L1528.0 205.1 L1530.9 195.9 L1533.8 188.0 L1536.7 180.9 L1539.7 174.4 L1542.6 168.2 L1545.5 161.9 L1548.4 155.7 L1551.4 149.5 L1554.3 143.4 L1557.2 137.2 L1560.1 131.1 L1563.1 125.1 L1566.0 119.1 L1568.9 113.4 L1571.8 108.1 L1574.8 103.3 L1577.7 98.7 L1580.6 94.3 L1583.5 90.2 L1586.4 86.4 L1589.4 83.0 L1592.3 79.9 L1595.2 77.2 L1598.1 74.9 L1601.1 73.0 L1604.0 71.6 L1606.9 70.7 L1609.8 70.5 L1612.8 71.0 L1615.7 72.1 L1618.6 73.5 L1621.5 75.1 L1624.5 77.4 L1627.4 80.4 L1630.3 84.6 L1633.2 89.9 L1636.1 96.0 L1639.1 103.1 L1642.0 111.1 L1644.9 119.6 L1647.8 128.0 L1650.8 136.4 L1653.7 144.9 L1656.6 153.2 L1659.5 161.6 L1662.5 170.0 L1665.4 178.6 L1668.3 187.4 L1671.2 196.4 L1674.2 205.6 L1677.1 214.7 L1680.0 223.7 L1682.9 232.8 L1685.8 241.8 L1688.8 250.8 L1691.7 259.9 L1694.6 269.3 L1697.5 279.4 L1700.5 289.6 L1703.4 299.5 L1706.3 309.2 L1709.2 318.9 L1712.2 328.5 L1715.1 338.2 L1718.0 347.8 L1720.9 357.4 L1723.9 367.1 L1726.8 376.7 L1729.7 386.6 L1732.6 396.6 L1735.5 406.9 L1738.5 417.7 L1741.4 429.4 L1744.3 441.3 L1747.2 452.8 L1750.2 463.8 L1753.1 474.4 L1756.0 484.8 L1758.9 494.8 L1761.9 503.8 L1764.8 511.9 L1767.7 519.2 L1770.6 525.7 L1773.6 531.7 L1776.5 537.0 L1779.4 541.9 L1782.3 546.5 L1785.3 550.6 L1788.2 554.4 L1791.1 557.5 L1794.0 560.0 L1796.9 562.0 L1799.9 563.6 L1802.8 564.7 L1805.7 565.5 L1808.6 566.1 L1811.6 566.5 L1814.5 566.7 L1817.4 566.7 L1820.3 566.6 L1823.3 566.5 L1826.2 566.2 L1829.1 565.8 L1832.0 565.5 L1835.0 565.1 L1837.9 564.7 L1840.8 564.2 L1843.7 563.7 L1846.6 563.2 L1849.6 562.7 L1852.5 562.2 L1855.4 561.7 L1858.3 561.3 L1861.3 560.8 L1864.2 560.5 L1867.1 560.3 L1870.0 560.2 L1873.0 560.5 L1875.9 560.8 L1878.8 561.2 L1881.7 561.7 L1884.7 562.1 L1887.6 562.6 L1890.5 563.2" stroke="#404040" stroke-width="2.0"/>
<path d="M1109.9 514.6 L1112.8 511.8 L1115.7 508.7 L1118.7 504.8 L1121.6 500.0 L1124.5 494.5 L1127.4 489.0 L1130.4 483.4 L1133.3 477.8 L1136.2 472.2 L1139.1 466.7 L1142.1 461.1 L1145.0 455.5 L1147.9 449.8 L1150.8 444.0 L1153.8 438.1 L1156.7 432.2 L1159.6 426.2 L1162.5 420.1 L1165.4 413.9 L1168.4 407.6 L1171.3 401.5 L1174.2 395.7 L1177.1 390.0 L1180.1 384.4 L1183.0 378.7 L1185.9 373.1 L1188.8 367.4 L1191.8 361.8 L1194.7 356.1 L1197.6 350.5 L1200.5 344.8 L1203.5 339.7 L1206.4 335.4 L1209.3 331.7 L1212.2 328.2 L1215.1 324.7 L1218.1 321.2 L1221.0 317.8 L1223.9 314.5 L1226.8 311.2 L1229.8 307.9 L1232.7 304.7 L1235.6 301.5 L1238.5 298.4 L1241.5 295.5 L1244.4 292.7 L1247.3 290.1 L1250.2 287.7 L1253.2 285.6 L1256.1 283.8 L1259.0 282.2 L1261.9 280.8 L1264.8 279.6 L1267.8 278.5 L1270.7 277.7 L1273.6 277.1 L1276.5 276.6 L1279.5 276.4 L1282.4 276.2 L1285.3 276.3 L1288.2 276.8 L1291.2 277.6 L1294.1 278.7 L1297.0 280.2 L1299.9 282.4 L1302.9 285.2 L1305.8 288.6 L1308.7 292.5 L1311.6 296.9 L1314.6 301.9 L1317.5 307.4 L1320.4 313.5 L1323.3 319.7 L1326.2 326.0 L1329.2 332.2 L1332.1 338.2 L1335.0 344.0 L1337.9 349.9 L1340.9 355.6 L1343.8 361.3 L1346.7 366.9 L1349.6 372.4 L1352.6 377.5 L1355.5 382.5 L1358.4 387.2 L1361.3 391.7 L1364.3 396.0 L1367.2 399.9 L1370.1 403.5 L1373.0 406.9 L1375.9 410.1 L1378.9 413.0 L1381.8 415.8 L1384.7 418.3 L1387.6 420.6 L1390.6 422.4 L1393.5 424.0 L1396.4 425.4 L1399.3 426.6 L1402.3 427.6 L1405.2 428.4 L1408.1 429.0 L1411.0 429.6 L1414.0 430.0 L1416.9 430.3 L1419.8 430.4 L1422.7 430.3 L1425.6 430.1 L1428.6 429.7 L1431.5 429.1 L1434.4 428.4 L1437.3 427.5 L1440.3 426.3 L1443.2 424.8 L1446.1 423.2 L1449.0 421.5 L1452.0 419.4 L1454.9 417.0 L1457.8 414.1 L1460.7 411.0 L1463.7 407.6 L1466.6 403.7 L1469.5 399.1 L1472.4 393.9 L1475.3 388.1 L1478.3 381.8 L1481.2 375.0 L1484.1 367.6 L1487.0 359.6 L1490.0 350.6 L1492.9 340.7 L1495.8 330.0 L1498.7 319.2 L1501.7 308.3 L1504.6 297.3 L1507.5 286.1 L1510.4 274.8 L1513.4 263.3 L1516.3 251.8 L1519.2 240.3 L1522.1 229.1 L1525.0 218.6 L1528.0 208.8 L1530.9 199.8 L1533.8 191.4 L1536.7 183.5 L1539.7 176.0 L1542.6 168.7 L1545.5 161.9 L1548.4 155.6 L1551.4 149.8 L1554.3 144.4 L1557.2 139.1 L1560.1 133.8 L1563.1 128.6 L1566.0 123.5 L1568.9 118.5 L1571.8 113.5 L1574.8 108.6 L1577.7 103.7 L1580.6 99.0 L1583.5 94.7 L1586.4 90.9 L1589.4 87.4 L1592.3 84.1 L1595.2 81.3 L1598.1 78.8 L1601.1 76.7 L1604.0 74.8 L1606.9 73.1 L1609.8 71.8 L1612.8 70.8 L1615.7 70.2 L1618.6 70.3 L1621.5 70.8 L1624.5 71.9 L1627.4 73.6 L1630.3 75.9 L1633.2 78.7 L1636.1 82.2 L1639.1 86.4 L1642.0 91.5 L1644.9 97.4 L1647.8 103.8 L1650.8 110.7 L1653.7 118.1 L1656.6 125.9 L1659.5 133.8 L1662.5 141.8 L1665.4 150.0 L1668.3 158.4 L1671.2 166.9 L1674.2 175.5 L1677.1 184.3 L1680.0 193.4 L1682.9 202.5 L1685.8 211.8 L1688.8 221.2 L1691.7 230.6 L1694.6 240.1 L1697.5 249.6 L1700.5 259.5 L1703.4 269.6 L1706.3 279.7 L1709.2 289.8 L1712.2 299.9 L1715.1 310.0 L1718.0 320.1 L1720.9 330.2 L1723.9 340.3 L1726.8 350.6 L1729.7 361.3 L1732.6 372.4 L1735.5 383.4 L1738.5 394.3 L1741.4 405.2 L1744.3 416.1 L1747.2 427.0 L1750.2 437.8 L1753.1 447.9 L1756.0 457.4 L1758.9 466.5 L1761.9 475.5 L1764.8 484.1 L1767.7 492.3 L1770.6 500.2 L1773.6 507.7 L1776.5 514.8 L1779.4 521.4 L1782.3 527.6 L1785.3 533.3 L1788.2 538.6 L1791.1 543.4 L1794.0 547.7 L1796.9 551.4 L1799.9 554.7 L1802.8 557.5 L1805.7 559.9 L1808.6 561.8 L1811.6 563.2 L1814.5 564.4 L1817.4 565.3 L1820.3 566.0 L1823.3 566.3 L1826.2 566.4 L1829.1 566.5 L1832.0 566.5 L1835.0 566.4 L1837.9 566.2 L1840.8 565.9 L1843.7 565.5 L1846.6 565.1 L1849.6 564.7 L1852.5 564.2 L1855.4 563.7 L1858.3 563.0 L1861.3 562.4 L1864.2 561.8 L1867.1 561.2 L1870.0 560.9 L1873.0 560.6 L1875.9 560.4 L1878.8 560.3 L1881.7 560.2 L1884.7 560.1 L1887.6 560.2 L1890.5 560.3" stroke="#f48cf4" stroke-width="1.9" stroke-dasharray="3.6 5.4"/>
</g>
<g stroke-linecap="butt">
<line x1="1084.9" y1="616.8" x2="1892.3" y2="616.8" stroke="#1a1a1a" stroke-width="2.9"/>
<line x1="1086.4" y1="19.7" x2="1086.4" y2="623.3" stroke="#141414" stroke-width="3.2"/>
<line x1="1079.4" y1="615.8" x2="1086.4" y2="615.8" stroke="#262626" stroke-width="2.7"/>
<line x1="1072.9" y1="566.2" x2="1086.4" y2="566.2" stroke="#262626" stroke-width="2.7"/>
<line x1="1079.4" y1="516.6" x2="1086.4" y2="516.6" stroke="#262626" stroke-width="2.7"/>
<line x1="1072.9" y1="467.1" x2="1086.4" y2="467.1" stroke="#262626" stroke-width="2.7"/>
<line x1="1079.4" y1="417.5" x2="1086.4" y2="417.5" stroke="#262626" stroke-width="2.7"/>
<line x1="1072.9" y1="367.9" x2="1086.4" y2="367.9" stroke="#262626" stroke-width="2.7"/>
<line x1="1079.4" y1="318.4" x2="1086.4" y2="318.4" stroke="#262626" stroke-width="2.7"/>
<line x1="1072.9" y1="268.8" x2="1086.4" y2="268.8" stroke="#262626" stroke-width="2.7"/>
<line x1="1079.4" y1="219.2" x2="1086.4" y2="219.2" stroke="#262626" stroke-width="2.7"/>
<line x1="1072.9" y1="169.6" x2="1086.4" y2="169.6" stroke="#262626" stroke-width="2.7"/>
<line x1="1079.4" y1="120.1" x2="1086.4" y2="120.1" stroke="#262626" stroke-width="2.7"/>
<line x1="1072.9" y1="70.5" x2="1086.4" y2="70.5" stroke="#262626" stroke-width="2.7"/>
<line x1="1079.4" y1="20.9" x2="1086.4" y2="20.9" stroke="#262626" stroke-width="2.7"/>
<line x1="1159.6" y1="616.8" x2="1159.6" y2="629.6" stroke="#262626" stroke-width="2.9"/>
<line x1="1232.7" y1="616.8" x2="1232.7" y2="624.3" stroke="#262626" stroke-width="2.9"/>
<line x1="1305.8" y1="616.8" x2="1305.8" y2="629.6" stroke="#262626" stroke-width="2.9"/>
<line x1="1378.9" y1="616.8" x2="1378.9" y2="624.3" stroke="#262626" stroke-width="2.9"/>
<line x1="1452.0" y1="616.8" x2="1452.0" y2="629.6" stroke="#262626" stroke-width="2.9"/>
<line x1="1525.0" y1="616.8" x2="1525.0" y2="624.3" stroke="#262626" stroke-width="2.9"/>
<line x1="1598.1" y1="616.8" x2="1598.1" y2="629.6" stroke="#262626" stroke-width="2.9"/>
<line x1="1671.2" y1="616.8" x2="1671.2" y2="624.3" stroke="#262626" stroke-width="2.9"/>
<line x1="1744.3" y1="616.8" x2="1744.3" y2="629.6" stroke="#262626" stroke-width="2.9"/>
<line x1="1817.4" y1="616.8" x2="1817.4" y2="624.3" stroke="#262626" stroke-width="2.9"/>
<line x1="1890.5" y1="616.8" x2="1890.5" y2="629.6" stroke="#262626" stroke-width="2.9"/>
</g>
<g font-family='"Liberation Serif", "DejaVu Serif", serif' font-size="21.5" fill="#454545" stroke="#454545" stroke-width="0.5">
<text x="1065.6" y="569.0" text-anchor="end" textLength="25.5" lengthAdjust="spacingAndGlyphs">0.0</text>
<text x="1065.6" y="469.9" text-anchor="end" textLength="25.5" lengthAdjust="spacingAndGlyphs">0.2</text>
<text x="1065.6" y="370.7" text-anchor="end" textLength="25.5" lengthAdjust="spacingAndGlyphs">0.4</text>
<text x="1065.6" y="271.6" text-anchor="end" textLength="25.5" lengthAdjust="spacingAndGlyphs">0.6</text>
<text x="1065.6" y="172.4" text-anchor="end" textLength="25.5" lengthAdjust="spacingAndGlyphs">0.8</text>
<text x="1065.6" y="73.3" text-anchor="end" textLength="25.5" lengthAdjust="spacingAndGlyphs">1.0</text>
<text x="1159.9" y="649.5" text-anchor="middle" textLength="40.5" lengthAdjust="spacingAndGlyphs">1500</text>
<text x="1306.1" y="649.5" text-anchor="middle" textLength="40.5" lengthAdjust="spacingAndGlyphs">1550</text>
<text x="1452.3" y="649.5" text-anchor="middle" textLength="40.5" lengthAdjust="spacingAndGlyphs">1600</text>
<text x="1598.4" y="649.5" text-anchor="middle" textLength="40.5" lengthAdjust="spacingAndGlyphs">1650</text>
<text x="1744.6" y="649.5" text-anchor="middle" textLength="40.5" lengthAdjust="spacingAndGlyphs">1700</text>
<text x="1890.8" y="649.5" text-anchor="middle" textLength="40.5" lengthAdjust="spacingAndGlyphs">1750</text>
</g>
<line x1="1116.7" y1="42.9" x2="1181.9" y2="42.9" stroke="#f060f0" stroke-width="2.2"/>
<line x1="1116.7" y1="77.9" x2="1181.9" y2="77.9" stroke="#a4a4a4" stroke-width="1.8"/>
<line x1="1116.7" y1="113.4" x2="1181.9" y2="113.4" stroke="#404040" stroke-width="2.6"/>
<line x1="1116.7" y1="149.0" x2="1177.7" y2="149.0" stroke="#f48cf4" stroke-width="2.4" stroke-dasharray="4.2 4.8"/>
<g font-family='"Liberation Serif", "DejaVu Serif", serif' font-size="25.3" fill="#303030" stroke="#303030" stroke-width="0.5">
<text x="1188.5" y="53.0" textLength="283.0" lengthAdjust="spacingAndGlyphs">Linalool-alginate/fucoidan</text>
<text x="1188.5" y="88.0" textLength="194.0" lengthAdjust="spacingAndGlyphs">Alginate/fucoidan</text>
<text x="1188.5" y="123.0" textLength="107.0" lengthAdjust="spacingAndGlyphs">Untreated</text>
<text x="1188.5" y="158.0" textLength="88.0" lengthAdjust="spacingAndGlyphs">Linalool</text>
</g>
<g font-family='"Liberation Serif", "DejaVu Serif", serif' fill="#303030" stroke="#303030" stroke-width="0.45">
<text transform="translate(997.0 325.0) rotate(-90)" text-anchor="middle" font-size="26" textLength="125.0" lengthAdjust="spacingAndGlyphs">Absorbance</text>
<text font-size="25.6"><tspan x="1379.0" y="705.0" textLength="193.0" lengthAdjust="spacingAndGlyphs">Wavenumber (cm</tspan><tspan x="1573.0" y="688.0" font-size="16" textLength="16.0" lengthAdjust="spacingAndGlyphs">−1</tspan><tspan x="1589.5" y="705.0">)</tspan></text>
</g>
<text x="1434.0" y="755.5" font-family='"Liberation Serif", "DejaVu Serif", serif' font-size="50" font-weight="bold" fill="#0a0a0a" textLength="65.0" lengthAdjust="spacingAndGlyphs"><tspan dy="-5">(</tspan><tspan dy="5">b</tspan><tspan dy="-5">)</tspan></text>
</g>
<g id="panel-c">
<g fill="none" stroke-linejoin="round" stroke-linecap="butt">
<path d="M115.3 1356.5 L118.3 1353.7 L121.2 1350.4 L124.1 1346.5 L127.1 1341.9 L130.0 1336.9 L133.0 1331.6 L135.9 1326.0 L138.8 1319.9 L141.8 1313.4 L144.7 1306.7 L147.7 1299.8 L150.6 1292.9 L153.6 1285.8 L156.5 1278.5 L159.4 1271.0 L162.4 1263.6 L165.3 1256.1 L168.3 1248.5 L171.2 1240.8 L174.1 1232.9 L177.1 1224.8 L180.0 1217.1 L183.0 1209.6 L185.9 1202.2 L188.8 1194.9 L191.8 1187.7 L194.7 1180.5 L197.7 1173.5 L200.6 1166.8 L203.6 1160.6 L206.5 1155.1 L209.4 1150.2 L212.4 1145.6 L215.3 1141.0 L218.3 1136.6 L221.2 1132.2 L224.1 1128.0 L227.1 1123.9 L230.0 1120.0 L233.0 1116.4 L235.9 1113.1 L238.9 1110.0 L241.8 1107.1 L244.7 1104.4 L247.7 1101.7 L250.6 1099.2 L253.6 1096.6 L256.5 1094.2 L259.4 1092.0 L262.4 1089.9 L265.3 1087.9 L268.3 1085.9 L271.2 1083.9 L274.2 1082.0 L277.1 1080.1 L280.0 1078.3 L283.0 1076.8 L285.9 1076.2 L288.9 1076.5 L291.8 1078.2 L294.7 1080.7 L297.7 1083.7 L300.6 1087.1 L303.6 1090.7 L306.5 1094.6 L309.5 1099.3 L312.4 1104.8 L315.3 1110.5 L318.3 1116.5 L321.2 1122.7 L324.2 1129.0 L327.1 1135.4 L330.0 1141.8 L333.0 1148.2 L335.9 1154.6 L338.9 1161.1 L341.8 1167.7 L344.8 1174.3 L347.7 1180.7 L350.6 1186.7 L353.6 1192.1 L356.5 1197.2 L359.5 1202.1 L362.4 1206.7 L365.3 1211.1 L368.3 1215.1 L371.2 1218.8 L374.2 1222.1 L377.1 1225.2 L380.1 1228.0 L383.0 1230.5 L385.9 1232.7 L388.9 1234.8 L391.8 1236.6 L394.8 1238.3 L397.7 1239.7 L400.6 1240.9 L403.6 1242.0 L406.5 1243.0 L409.5 1243.9 L412.4 1244.6 L415.4 1245.2 L418.3 1245.6 L421.2 1245.9 L424.2 1246.1 L427.1 1246.2 L430.1 1246.0 L433.0 1245.6 L435.9 1244.9 L438.9 1244.0 L441.8 1242.9 L444.8 1241.6 L447.7 1240.1 L450.7 1238.4 L453.6 1236.5 L456.5 1234.4 L459.5 1232.0 L462.4 1229.4 L465.4 1226.6 L468.3 1223.6 L471.2 1220.2 L474.2 1216.4 L477.1 1212.2 L480.1 1207.8 L483.0 1203.1 L486.0 1198.5 L488.9 1193.6 L491.8 1187.8 L494.8 1180.8 L497.7 1171.9 L500.7 1161.8 L503.6 1151.5 L506.5 1141.0 L509.5 1130.6 L512.4 1120.3 L515.4 1110.2 L518.3 1100.1 L521.3 1090.0 L524.2 1079.8 L527.1 1069.7 L530.1 1059.3 L533.0 1048.6 L536.0 1037.7 L538.9 1026.9 L541.8 1016.3 L544.8 1006.3 L547.7 997.2 L550.7 989.2 L553.6 982.0 L556.5 975.3 L559.5 968.6 L562.4 962.1 L565.4 955.7 L568.3 949.3 L571.3 942.6 L574.2 935.6 L577.1 928.4 L580.1 921.3 L583.0 914.5 L586.0 908.1 L588.9 902.1 L591.8 896.5 L594.8 891.1 L597.7 886.0 L600.7 881.4 L603.6 877.2 L606.6 873.3 L609.5 870.1 L612.4 867.5 L615.4 865.5 L618.3 864.4 L621.3 864.2 L624.2 864.9 L627.1 866.2 L630.1 867.8 L633.0 869.6 L636.0 872.1 L638.9 876.0 L641.9 881.5 L644.8 887.8 L647.7 894.6 L650.7 901.7 L653.6 909.1 L656.6 916.4 L659.5 923.8 L662.4 931.3 L665.4 938.9 L668.3 946.7 L671.3 954.7 L674.2 962.8 L677.2 971.1 L680.1 979.6 L683.0 988.4 L686.0 997.3 L688.9 1006.4 L691.9 1015.7 L694.8 1025.0 L697.7 1034.4 L700.7 1043.9 L703.6 1053.5 L706.6 1063.5 L709.5 1073.8 L712.5 1084.4 L715.4 1095.2 L718.3 1105.9 L721.3 1116.4 L724.2 1126.8 L727.2 1137.1 L730.1 1147.5 L733.0 1157.9 L736.0 1168.2 L738.9 1178.6 L741.9 1188.9 L744.8 1199.3 L747.8 1209.8 L750.7 1220.7 L753.6 1231.9 L756.6 1243.9 L759.5 1256.6 L762.5 1269.5 L765.4 1281.9 L768.3 1293.9 L771.3 1305.8 L774.2 1317.4 L777.2 1328.3 L780.1 1338.0 L783.1 1346.6 L786.0 1354.2 L788.9 1361.1 L791.9 1367.4 L794.8 1373.2 L797.8 1378.8 L800.7 1384.2 L803.6 1389.0 L806.6 1392.7 L809.5 1395.2 L812.5 1397.1 L815.4 1398.5 L818.4 1399.5 L821.3 1400.4 L824.2 1401.3 L827.2 1401.9 L830.1 1402.2 L833.1 1402.2 L836.0 1402.0 L838.9 1401.7 L841.9 1401.1 L844.8 1400.5 L847.8 1399.8 L850.7 1399.2 L853.7 1398.5 L856.6 1397.9 L859.5 1397.3 L862.5 1396.6 L865.4 1396.0 L868.4 1395.3 L871.3 1394.7 L874.2 1394.1 L877.2 1393.8 L880.1 1393.7 L883.1 1393.6 L886.0 1393.6 L889.0 1393.6 L891.9 1393.6 L894.8 1393.6 L897.8 1393.7 L900.7 1393.8 L903.7 1393.9 L906.6 1394.1" stroke="#ff5c5c" stroke-width="1.9"/>
<path d="M115.3 1364.5 L118.3 1361.1 L121.2 1357.5 L124.1 1353.5 L127.1 1349.3 L130.0 1344.7 L133.0 1339.9 L135.9 1334.9 L138.8 1329.6 L141.8 1323.9 L144.7 1317.8 L147.7 1311.4 L150.6 1304.9 L153.6 1298.2 L156.5 1291.4 L159.4 1284.4 L162.4 1277.4 L165.3 1270.2 L168.3 1262.9 L171.2 1255.3 L174.1 1247.4 L177.1 1239.4 L180.0 1231.6 L183.0 1224.0 L185.9 1216.5 L188.8 1209.1 L191.8 1201.7 L194.7 1194.6 L197.7 1187.7 L200.6 1181.0 L203.6 1174.5 L206.5 1168.2 L209.4 1162.3 L212.4 1157.2 L215.3 1152.8 L218.3 1148.8 L221.2 1145.0 L224.1 1141.3 L227.1 1137.7 L230.0 1134.1 L233.0 1130.6 L235.9 1127.2 L238.9 1123.8 L241.8 1120.4 L244.7 1117.1 L247.7 1114.1 L250.6 1111.2 L253.6 1108.4 L256.5 1105.7 L259.4 1103.3 L262.4 1101.2 L265.3 1099.4 L268.3 1097.8 L271.2 1096.4 L274.2 1095.4 L277.1 1094.7 L280.0 1094.4 L283.0 1094.3 L285.9 1094.5 L288.9 1094.8 L291.8 1095.6 L294.7 1096.8 L297.7 1098.7 L300.6 1101.5 L303.6 1105.0 L306.5 1108.8 L309.5 1113.0 L312.4 1117.6 L315.3 1122.9 L318.3 1128.7 L321.2 1135.0 L324.2 1141.7 L327.1 1148.8 L330.0 1156.7 L333.0 1165.0 L335.9 1173.3 L338.9 1181.1 L341.8 1188.2 L344.8 1194.7 L347.7 1200.8 L350.6 1206.4 L353.6 1211.6 L356.5 1216.4 L359.5 1220.9 L362.4 1225.1 L365.3 1229.0 L368.3 1232.6 L371.2 1235.7 L374.2 1238.6 L377.1 1241.4 L380.1 1243.9 L383.0 1246.2 L385.9 1248.3 L388.9 1250.4 L391.8 1252.3 L394.8 1254.1 L397.7 1255.8 L400.6 1257.3 L403.6 1258.6 L406.5 1259.6 L409.5 1260.3 L412.4 1260.8 L415.4 1261.1 L418.3 1261.2 L421.2 1261.3 L424.2 1261.2 L427.1 1261.0 L430.1 1260.6 L433.0 1259.9 L435.9 1259.0 L438.9 1258.0 L441.8 1256.7 L444.8 1255.3 L447.7 1253.7 L450.7 1252.0 L453.6 1250.1 L456.5 1248.1 L459.5 1245.8 L462.4 1243.3 L465.4 1240.5 L468.3 1237.6 L471.2 1234.5 L474.2 1231.0 L477.1 1227.0 L480.1 1222.5 L483.0 1217.7 L486.0 1212.0 L488.9 1205.4 L491.8 1197.5 L494.8 1188.1 L497.7 1177.3 L500.7 1166.1 L503.6 1155.0 L506.5 1143.8 L509.5 1132.6 L512.4 1121.4 L515.4 1110.2 L518.3 1099.0 L521.3 1087.7 L524.2 1076.5 L527.1 1065.3 L530.1 1054.1 L533.0 1043.0 L536.0 1032.1 L538.9 1021.6 L541.8 1011.7 L544.8 1002.4 L547.7 994.0 L550.7 986.4 L553.6 979.3 L556.5 972.5 L559.5 965.9 L562.4 959.5 L565.4 953.1 L568.3 946.6 L571.3 939.8 L574.2 932.7 L577.1 925.5 L580.1 918.5 L583.0 911.9 L586.0 905.9 L588.9 900.2 L591.8 894.8 L594.8 889.6 L597.7 884.8 L600.7 880.4 L603.6 876.4 L606.6 872.7 L609.5 869.7 L612.4 867.2 L615.4 865.4 L618.3 864.4 L621.3 864.2 L624.2 864.9 L627.1 866.2 L630.1 867.9 L633.0 869.8 L636.0 872.4 L638.9 876.1 L641.9 881.1 L644.8 887.0 L647.7 893.7 L650.7 901.1 L653.6 909.1 L656.6 917.5 L659.5 925.8 L662.4 934.1 L665.4 942.4 L668.3 950.7 L671.3 959.0 L674.2 967.3 L677.2 975.7 L680.1 984.0 L683.0 992.8 L686.0 1001.9 L688.9 1011.3 L691.9 1020.8 L694.8 1030.3 L697.7 1039.9 L700.7 1049.5 L703.6 1059.5 L706.6 1069.7 L709.5 1080.4 L712.5 1091.2 L715.4 1102.1 L718.3 1112.8 L721.3 1123.3 L724.2 1133.8 L727.2 1144.2 L730.1 1154.7 L733.0 1165.2 L736.0 1175.6 L738.9 1186.1 L741.9 1196.6 L744.8 1207.2 L747.8 1218.1 L750.7 1229.3 L753.6 1241.0 L756.6 1253.7 L759.5 1266.7 L762.5 1279.1 L765.4 1291.0 L768.3 1302.6 L771.3 1313.9 L774.2 1324.7 L777.2 1334.5 L780.1 1343.3 L783.1 1351.2 L786.0 1358.3 L788.9 1364.7 L791.9 1370.5 L794.8 1375.8 L797.8 1380.8 L800.7 1385.3 L803.6 1389.4 L806.6 1392.7 L809.5 1395.4 L812.5 1397.7 L815.4 1399.4 L818.4 1400.6 L821.3 1401.4 L824.2 1402.1 L827.2 1402.6 L830.1 1402.7 L833.1 1402.7 L836.0 1402.7 L838.9 1402.5 L841.9 1402.2 L844.8 1401.8 L847.8 1401.4 L850.7 1401.0 L853.7 1400.5 L856.6 1400.0 L859.5 1399.5 L862.5 1399.0 L865.4 1398.4 L868.4 1397.9 L871.3 1397.4 L874.2 1396.8 L877.2 1396.4 L880.1 1396.0 L883.1 1395.7 L886.0 1395.7 L889.0 1396.0 L891.9 1396.4 L894.8 1396.8 L897.8 1397.3 L900.7 1397.8 L903.7 1398.3 L906.6 1399.0" stroke="#c6c6c6" stroke-width="2.8"/>
<path d="M115.3 1371.0 L118.3 1367.7 L121.2 1364.2 L124.1 1360.5 L127.1 1356.4 L130.0 1352.2 L133.0 1347.7 L135.9 1342.9 L138.8 1337.9 L141.8 1332.6 L144.7 1326.9 L147.7 1320.9 L150.6 1314.8 L153.6 1308.4 L156.5 1301.9 L159.4 1295.1 L162.4 1288.3 L165.3 1281.3 L168.3 1274.1 L171.2 1266.6 L174.1 1258.8 L177.1 1250.8 L180.0 1242.7 L183.0 1234.9 L185.9 1227.2 L188.8 1219.6 L191.8 1212.2 L194.7 1204.8 L197.7 1197.6 L200.6 1190.6 L203.6 1183.9 L206.5 1177.3 L209.4 1171.0 L212.4 1165.1 L215.3 1160.1 L218.3 1155.7 L221.2 1151.6 L224.1 1147.7 L227.1 1143.9 L230.0 1140.2 L233.0 1136.4 L235.9 1132.7 L238.9 1129.1 L241.8 1125.5 L244.7 1121.9 L247.7 1118.4 L250.6 1115.2 L253.6 1112.1 L256.5 1109.1 L259.4 1106.3 L262.4 1103.7 L265.3 1101.4 L268.3 1099.5 L271.2 1097.7 L274.2 1096.2 L277.1 1095.1 L280.0 1094.2 L283.0 1093.7 L285.9 1093.5 L288.9 1093.5 L291.8 1093.9 L294.7 1094.7 L297.7 1096.2 L300.6 1098.4 L303.6 1101.4 L306.5 1105.0 L309.5 1108.9 L312.4 1113.2 L315.3 1118.0 L318.3 1123.4 L321.2 1129.4 L324.2 1135.9 L327.1 1142.7 L330.0 1150.0 L333.0 1158.0 L335.9 1166.4 L338.9 1174.7 L341.8 1182.5 L344.8 1189.5 L347.7 1196.1 L350.6 1202.3 L353.6 1208.1 L356.5 1213.5 L359.5 1218.5 L362.4 1223.2 L365.3 1227.7 L368.3 1231.9 L371.2 1235.7 L374.2 1239.0 L377.1 1242.2 L380.1 1245.2 L383.0 1248.0 L385.9 1250.5 L388.9 1252.9 L391.8 1255.3 L394.8 1257.5 L397.7 1259.6 L400.6 1261.5 L403.6 1263.3 L406.5 1264.8 L409.5 1266.1 L412.4 1267.2 L415.4 1268.0 L418.3 1268.5 L421.2 1268.8 L424.2 1268.9 L427.1 1268.7 L430.1 1268.3 L433.0 1267.7 L435.9 1266.9 L438.9 1265.9 L441.8 1264.7 L444.8 1263.4 L447.7 1261.9 L450.7 1260.2 L453.6 1258.4 L456.5 1256.4 L459.5 1254.2 L462.4 1251.8 L465.4 1248.9 L468.3 1245.7 L471.2 1242.4 L474.2 1238.8 L477.1 1234.6 L480.1 1229.9 L483.0 1224.7 L486.0 1218.7 L488.9 1211.9 L491.8 1204.0 L494.8 1194.8 L497.7 1184.3 L500.7 1172.9 L503.6 1161.2 L506.5 1149.5 L509.5 1137.9 L512.4 1126.4 L515.4 1115.1 L518.3 1103.8 L521.3 1092.5 L524.2 1081.3 L527.1 1070.1 L530.1 1058.9 L533.0 1047.8 L536.0 1036.8 L538.9 1026.1 L541.8 1015.9 L544.8 1006.2 L547.7 997.4 L550.7 989.5 L553.6 982.2 L556.5 975.3 L559.5 968.6 L562.4 962.1 L565.4 955.7 L568.3 949.3 L571.3 942.6 L574.2 935.6 L577.1 928.4 L580.1 921.3 L583.0 914.5 L586.0 908.1 L588.9 902.1 L591.8 896.5 L594.8 891.1 L597.7 886.0 L600.7 881.4 L603.6 877.2 L606.6 873.3 L609.5 870.1 L612.4 867.5 L615.4 865.5 L618.3 864.4 L621.3 864.2 L624.2 864.9 L627.1 866.2 L630.1 867.9 L633.0 869.8 L636.0 872.4 L638.9 876.1 L641.9 881.1 L644.8 887.0 L647.7 893.7 L650.7 901.1 L653.6 909.1 L656.6 917.5 L659.5 925.8 L662.4 934.1 L665.4 942.4 L668.3 950.7 L671.3 959.0 L674.2 967.3 L677.2 975.7 L680.1 984.0 L683.0 992.8 L686.0 1001.9 L688.9 1011.3 L691.9 1020.8 L694.8 1030.3 L697.7 1039.9 L700.7 1049.5 L703.6 1059.5 L706.6 1069.7 L709.5 1080.4 L712.5 1091.2 L715.4 1102.1 L718.3 1112.8 L721.3 1123.3 L724.2 1133.8 L727.2 1144.2 L730.1 1154.7 L733.0 1165.2 L736.0 1175.6 L738.9 1186.1 L741.9 1196.6 L744.8 1207.2 L747.8 1218.1 L750.7 1229.3 L753.6 1241.0 L756.6 1253.7 L759.5 1266.7 L762.5 1279.1 L765.4 1291.0 L768.3 1302.6 L771.3 1313.9 L774.2 1324.7 L777.2 1334.5 L780.1 1343.3 L783.1 1351.2 L786.0 1358.3 L788.9 1364.7 L791.9 1370.5 L794.8 1375.8 L797.8 1380.8 L800.7 1385.3 L803.6 1389.4 L806.6 1392.7 L809.5 1395.4 L812.5 1397.7 L815.4 1399.4 L818.4 1400.6 L821.3 1401.4 L824.2 1402.1 L827.2 1402.6 L830.1 1402.7 L833.1 1402.7 L836.0 1402.7 L838.9 1402.5 L841.9 1402.2 L844.8 1401.8 L847.8 1401.4 L850.7 1401.0 L853.7 1400.5 L856.6 1400.0 L859.5 1399.5 L862.5 1399.0 L865.4 1398.4 L868.4 1397.9 L871.3 1397.4 L874.2 1396.8 L877.2 1396.4 L880.1 1396.0 L883.1 1395.7 L886.0 1395.7 L889.0 1396.0 L891.9 1396.4 L894.8 1396.8 L897.8 1397.3 L900.7 1397.8 L903.7 1398.3 L906.6 1399.0" stroke="#5e5e5e" stroke-width="2.2"/>
<path d="M115.3 1371.0 L118.3 1367.9 L121.2 1364.6 L124.1 1361.1 L127.1 1357.3 L130.0 1353.2 L133.0 1348.9 L135.9 1344.3 L138.8 1339.5 L141.8 1334.4 L144.7 1329.0 L147.7 1323.2 L150.6 1317.3 L153.6 1311.2 L156.5 1304.8 L159.4 1298.3 L162.4 1291.7 L165.3 1284.9 L168.3 1278.0 L171.2 1270.7 L174.1 1263.2 L177.1 1255.4 L180.0 1247.5 L183.0 1239.9 L185.9 1232.4 L188.8 1225.1 L191.8 1217.8 L194.7 1210.6 L197.7 1203.5 L200.6 1196.7 L203.6 1190.1 L206.5 1183.7 L209.4 1177.4 L212.4 1171.6 L215.3 1166.5 L218.3 1162.1 L221.2 1158.1 L224.1 1154.3 L227.1 1150.5 L230.0 1146.8 L233.0 1143.2 L235.9 1139.6 L238.9 1136.1 L241.8 1132.5 L244.7 1129.0 L247.7 1125.5 L250.6 1122.1 L253.6 1118.8 L256.5 1115.5 L259.4 1112.3 L262.4 1109.3 L265.3 1106.8 L268.3 1104.6 L271.2 1102.6 L274.2 1100.9 L277.1 1099.4 L280.0 1098.3 L283.0 1097.5 L285.9 1097.0 L288.9 1096.7 L291.8 1096.5 L294.7 1096.6 L297.7 1097.1 L300.6 1098.2 L303.6 1100.3 L306.5 1103.1 L309.5 1106.2 L312.4 1109.7 L315.3 1113.6 L318.3 1118.0 L321.2 1123.0 L324.2 1128.5 L327.1 1134.6 L330.0 1141.2 L333.0 1148.6 L335.9 1156.6 L338.9 1164.7 L341.8 1172.5 L344.8 1179.4 L347.7 1186.0 L350.6 1192.2 L353.6 1198.1 L356.5 1203.6 L359.5 1208.6 L362.4 1213.4 L365.3 1217.8 L368.3 1222.0 L371.2 1225.9 L374.2 1229.3 L377.1 1232.6 L380.1 1235.7 L383.0 1238.6 L385.9 1241.3 L388.9 1243.9 L391.8 1246.4 L394.8 1248.8 L397.7 1251.1 L400.6 1253.3 L403.6 1255.2 L406.5 1257.0 L409.5 1258.5 L412.4 1259.8 L415.4 1260.8 L418.3 1261.6 L421.2 1262.1 L424.2 1262.5 L427.1 1262.7 L430.1 1262.7 L433.0 1262.5 L435.9 1262.2 L438.9 1261.6 L441.8 1260.9 L444.8 1259.8 L447.7 1258.5 L450.7 1256.9 L453.6 1255.2 L456.5 1253.3 L459.5 1251.5 L462.4 1249.7 L465.4 1247.7 L468.3 1245.7 L471.2 1243.6 L474.2 1241.3 L477.1 1239.0 L480.1 1236.5 L483.0 1233.3 L486.0 1228.7 L488.9 1223.1 L491.8 1216.7 L494.8 1209.6 L497.7 1202.1 L500.7 1194.1 L503.6 1185.4 L506.5 1175.9 L509.5 1165.5 L512.4 1154.5 L515.4 1143.3 L518.3 1132.1 L521.3 1120.6 L524.2 1109.0 L527.1 1097.2 L530.1 1085.3 L533.0 1073.4 L536.0 1061.5 L538.9 1049.8 L541.8 1038.3 L544.8 1026.9 L547.7 1015.7 L550.7 1004.5 L553.6 993.3 L556.5 982.3 L559.5 971.8 L562.4 962.1 L565.4 953.7 L568.3 946.4 L571.3 939.5 L574.2 932.8 L577.1 926.2 L580.1 919.8 L583.0 913.7 L586.0 907.9 L588.9 902.5 L591.8 897.4 L594.8 892.7 L597.7 888.4 L600.7 884.5 L603.6 881.1 L606.6 878.0 L609.5 875.2 L612.4 872.8 L615.4 870.7 L618.3 868.8 L621.3 867.2 L624.2 865.8 L627.1 864.8 L630.1 864.3 L633.0 864.4 L636.0 865.6 L638.9 867.4 L641.9 869.9 L644.8 873.2 L647.7 877.7 L650.7 883.1 L653.6 889.5 L656.6 896.6 L659.5 904.5 L662.4 913.0 L665.4 921.6 L668.3 930.4 L671.3 939.5 L674.2 948.9 L677.2 958.2 L680.1 967.7 L683.0 977.2 L686.0 986.8 L688.9 996.4 L691.9 1006.1 L694.8 1015.9 L697.7 1025.8 L700.7 1035.9 L703.6 1046.2 L706.6 1056.8 L709.5 1067.6 L712.5 1078.3 L715.4 1089.1 L718.3 1099.8 L721.3 1110.6 L724.2 1121.4 L727.2 1132.1 L730.1 1142.9 L733.0 1153.6 L736.0 1164.4 L738.9 1175.2 L741.9 1185.9 L744.8 1196.9 L747.8 1208.3 L750.7 1219.7 L753.6 1231.1 L756.6 1242.3 L759.5 1253.5 L762.5 1264.7 L765.4 1275.8 L768.3 1286.6 L771.3 1296.9 L774.2 1306.7 L777.2 1316.1 L780.1 1325.0 L783.1 1333.3 L786.0 1341.0 L788.9 1348.4 L791.9 1355.5 L794.8 1362.2 L797.8 1368.4 L800.7 1374.2 L803.6 1379.4 L806.6 1384.0 L809.5 1388.0 L812.5 1391.4 L815.4 1394.4 L818.4 1396.9 L821.3 1398.8 L824.2 1400.0 L827.2 1400.9 L830.1 1401.5 L833.1 1402.0 L836.0 1402.2 L838.9 1402.2 L841.9 1402.0 L844.8 1401.8 L847.8 1401.5 L850.7 1401.1 L853.7 1400.6 L856.6 1400.0 L859.5 1399.3 L862.5 1398.6 L865.4 1398.0 L868.4 1397.4 L871.3 1396.8 L874.2 1396.3 L877.2 1395.9 L880.1 1395.5 L883.1 1395.2 L886.0 1395.0 L889.0 1395.0 L891.9 1395.0 L894.8 1395.2 L897.8 1395.5 L900.7 1395.9 L903.7 1396.3 L906.6 1396.8" stroke="#ff8484" stroke-width="1.9" stroke-dasharray="3.6 5.4"/>
</g>
<g stroke-linecap="butt">
<line x1="96.3" y1="1407.8" x2="908.4" y2="1407.8" stroke="#1a1a1a" stroke-width="2.9"/>
<line x1="97.8" y1="809.2" x2="97.8" y2="1414.3" stroke="#141414" stroke-width="3.2"/>
<line x1="84.3" y1="1402.2" x2="97.8" y2="1402.2" stroke="#363636" stroke-width="2.7"/>
<line x1="90.8" y1="1348.4" x2="97.8" y2="1348.4" stroke="#363636" stroke-width="2.7"/>
<line x1="84.3" y1="1294.6" x2="97.8" y2="1294.6" stroke="#363636" stroke-width="2.7"/>
<line x1="90.8" y1="1240.8" x2="97.8" y2="1240.8" stroke="#363636" stroke-width="2.7"/>
<line x1="84.3" y1="1187.0" x2="97.8" y2="1187.0" stroke="#363636" stroke-width="2.7"/>
<line x1="90.8" y1="1133.2" x2="97.8" y2="1133.2" stroke="#363636" stroke-width="2.7"/>
<line x1="84.3" y1="1079.4" x2="97.8" y2="1079.4" stroke="#363636" stroke-width="2.7"/>
<line x1="90.8" y1="1025.6" x2="97.8" y2="1025.6" stroke="#363636" stroke-width="2.7"/>
<line x1="84.3" y1="971.8" x2="97.8" y2="971.8" stroke="#363636" stroke-width="2.7"/>
<line x1="90.8" y1="918.0" x2="97.8" y2="918.0" stroke="#363636" stroke-width="2.7"/>
<line x1="84.3" y1="864.2" x2="97.8" y2="864.2" stroke="#363636" stroke-width="2.7"/>
<line x1="90.8" y1="810.4" x2="97.8" y2="810.4" stroke="#363636" stroke-width="2.7"/>
<line x1="171.2" y1="1407.8" x2="171.2" y2="1420.6" stroke="#363636" stroke-width="2.9"/>
<line x1="244.7" y1="1407.8" x2="244.7" y2="1415.3" stroke="#363636" stroke-width="2.9"/>
<line x1="318.3" y1="1407.8" x2="318.3" y2="1420.6" stroke="#363636" stroke-width="2.9"/>
<line x1="391.8" y1="1407.8" x2="391.8" y2="1415.3" stroke="#363636" stroke-width="2.9"/>
<line x1="465.4" y1="1407.8" x2="465.4" y2="1420.6" stroke="#363636" stroke-width="2.9"/>
<line x1="538.9" y1="1407.8" x2="538.9" y2="1415.3" stroke="#363636" stroke-width="2.9"/>
<line x1="612.4" y1="1407.8" x2="612.4" y2="1420.6" stroke="#363636" stroke-width="2.9"/>
<line x1="686.0" y1="1407.8" x2="686.0" y2="1415.3" stroke="#363636" stroke-width="2.9"/>
<line x1="759.5" y1="1407.8" x2="759.5" y2="1420.6" stroke="#363636" stroke-width="2.9"/>
<line x1="833.1" y1="1407.8" x2="833.1" y2="1415.3" stroke="#363636" stroke-width="2.9"/>
<line x1="906.6" y1="1407.8" x2="906.6" y2="1420.6" stroke="#363636" stroke-width="2.9"/>
</g>
<g font-family='"Liberation Serif", "DejaVu Serif", serif' font-size="21.5" fill="#454545" stroke="#454545" stroke-width="0.5">
<text x="77.0" y="1406.2" text-anchor="end" textLength="25.5" lengthAdjust="spacingAndGlyphs">0.0</text>
<text x="77.0" y="1298.6" text-anchor="end" textLength="25.5" lengthAdjust="spacingAndGlyphs">0.2</text>
<text x="77.0" y="1191.0" text-anchor="end" textLength="25.5" lengthAdjust="spacingAndGlyphs">0.4</text>
<text x="77.0" y="1083.4" text-anchor="end" textLength="25.5" lengthAdjust="spacingAndGlyphs">0.6</text>
<text x="77.0" y="975.8" text-anchor="end" textLength="25.5" lengthAdjust="spacingAndGlyphs">0.8</text>
<text x="77.0" y="868.2" text-anchor="end" textLength="25.5" lengthAdjust="spacingAndGlyphs">1.0</text>
<text x="171.5" y="1440.2" text-anchor="middle" textLength="40.5" lengthAdjust="spacingAndGlyphs">1500</text>
<text x="318.6" y="1440.2" text-anchor="middle" textLength="40.5" lengthAdjust="spacingAndGlyphs">1550</text>
<text x="465.7" y="1440.2" text-anchor="middle" textLength="40.5" lengthAdjust="spacingAndGlyphs">1600</text>
<text x="612.7" y="1440.2" text-anchor="middle" textLength="40.5" lengthAdjust="spacingAndGlyphs">1650</text>
<text x="759.8" y="1440.2" text-anchor="middle" textLength="40.5" lengthAdjust="spacingAndGlyphs">1700</text>
<text x="906.9" y="1440.2" text-anchor="middle" textLength="40.5" lengthAdjust="spacingAndGlyphs">1750</text>
</g>
<line x1="128.0" y1="846.7" x2="194.4" y2="846.7" stroke="#ff5c5c" stroke-width="3.0"/>
<line x1="128.0" y1="882.0" x2="194.4" y2="882.0" stroke="#c6c6c6" stroke-width="3.4"/>
<line x1="128.0" y1="916.6" x2="194.4" y2="916.6" stroke="#5e5e5e" stroke-width="3.0"/>
<line x1="128.0" y1="953.0" x2="189.0" y2="953.0" stroke="#ff8484" stroke-width="2.4" stroke-dasharray="4.2 4.8"/>
<g font-family='"Liberation Serif", "DejaVu Serif", serif' font-size="25.3" fill="#303030" stroke="#303030" stroke-width="0.5">
<text x="199.4" y="857.0" textLength="302.0" lengthAdjust="spacingAndGlyphs">Bergamot-alginate/fucoidan</text>
<text x="199.4" y="892.0" textLength="195.0" lengthAdjust="spacingAndGlyphs">Alginate/fucoidan</text>
<text x="199.4" y="927.0" textLength="107.0" lengthAdjust="spacingAndGlyphs">Untreated</text>
<text x="199.4" y="963.0" textLength="104.0" lengthAdjust="spacingAndGlyphs">Bergamot</text>
</g>
<g font-family='"Liberation Serif", "DejaVu Serif", serif' fill="#303030" stroke="#303030" stroke-width="0.45">
<text transform="translate(36.0 1100.5) rotate(-90)" text-anchor="middle" font-size="26" textLength="127.0" lengthAdjust="spacingAndGlyphs">Absorbance</text>
<text font-size="25.6"><tspan x="395.0" y="1498.0" textLength="193.0" lengthAdjust="spacingAndGlyphs">Wavenumber (cm</tspan><tspan x="589.0" y="1481.0" font-size="16" textLength="16.0" lengthAdjust="spacingAndGlyphs">−1</tspan><tspan x="606.0" y="1498.0">)</tspan></text>
</g>
<text x="450.5" y="1550.0" font-family='"Liberation Serif", "DejaVu Serif", serif' font-size="50" font-weight="bold" fill="#0a0a0a" textLength="57.5" lengthAdjust="spacingAndGlyphs"><tspan dy="-5">(</tspan><tspan dy="5">c</tspan><tspan dy="-5">)</tspan></text>
</g>
<g id="panel-d">
<g fill="none" stroke-linejoin="round" stroke-linecap="butt">
<path d="M1104.9 1363.5 L1107.8 1360.6 L1110.8 1357.3 L1113.7 1353.3 L1116.7 1348.4 L1119.6 1342.8 L1122.6 1337.1 L1125.5 1331.2 L1128.4 1325.1 L1131.4 1318.8 L1134.3 1312.4 L1137.3 1305.9 L1140.2 1299.4 L1143.1 1292.9 L1146.1 1286.5 L1149.0 1280.3 L1152.0 1274.3 L1154.9 1268.3 L1157.9 1262.2 L1160.8 1255.9 L1163.7 1249.3 L1166.7 1242.5 L1169.6 1235.6 L1172.6 1228.7 L1175.5 1222.0 L1178.5 1215.4 L1181.4 1208.9 L1184.3 1202.4 L1187.3 1196.1 L1190.2 1189.7 L1193.2 1183.4 L1196.1 1177.4 L1199.0 1171.8 L1202.0 1166.6 L1204.9 1161.9 L1207.9 1157.7 L1210.8 1153.9 L1213.8 1150.4 L1216.7 1147.1 L1219.6 1143.8 L1222.6 1140.6 L1225.5 1137.5 L1228.5 1134.5 L1231.4 1131.5 L1234.3 1128.5 L1237.3 1125.7 L1240.2 1122.9 L1243.2 1120.4 L1246.1 1118.1 L1249.1 1116.0 L1252.0 1114.2 L1254.9 1112.8 L1257.9 1111.6 L1260.8 1110.6 L1263.8 1109.8 L1266.7 1109.2 L1269.7 1109.0 L1272.6 1109.2 L1275.5 1110.0 L1278.5 1111.1 L1281.4 1112.7 L1284.4 1114.6 L1287.3 1117.1 L1290.2 1119.9 L1293.2 1123.2 L1296.1 1126.7 L1299.1 1130.5 L1302.0 1134.5 L1305.0 1138.9 L1307.9 1144.0 L1310.8 1149.4 L1313.8 1155.1 L1316.7 1160.8 L1319.7 1166.4 L1322.6 1171.9 L1325.6 1177.4 L1328.5 1182.8 L1331.4 1188.2 L1334.4 1193.5 L1337.3 1198.8 L1340.3 1204.0 L1343.2 1209.0 L1346.1 1213.8 L1349.1 1218.5 L1352.0 1223.0 L1355.0 1227.4 L1357.9 1231.4 L1360.9 1235.1 L1363.8 1238.6 L1366.7 1241.9 L1369.7 1245.0 L1372.6 1247.8 L1375.6 1250.4 L1378.5 1252.7 L1381.5 1254.8 L1384.4 1256.7 L1387.3 1258.3 L1390.3 1259.7 L1393.2 1260.9 L1396.2 1261.8 L1399.1 1262.4 L1402.0 1262.9 L1405.0 1263.3 L1407.9 1263.4 L1410.9 1263.4 L1413.8 1263.2 L1416.8 1262.9 L1419.7 1262.5 L1422.6 1262.0 L1425.6 1261.2 L1428.5 1260.4 L1431.5 1259.3 L1434.4 1258.0 L1437.3 1256.5 L1440.3 1254.8 L1443.2 1252.9 L1446.2 1250.6 L1449.1 1248.2 L1452.1 1245.6 L1455.0 1243.0 L1457.9 1240.1 L1460.9 1236.9 L1463.8 1233.4 L1466.8 1229.7 L1469.7 1225.7 L1472.7 1221.2 L1475.6 1215.9 L1478.5 1209.7 L1481.5 1202.8 L1484.4 1195.1 L1487.4 1186.7 L1490.3 1177.7 L1493.2 1168.1 L1496.2 1157.8 L1499.1 1146.7 L1502.1 1134.9 L1505.0 1123.0 L1508.0 1111.0 L1510.9 1099.1 L1513.8 1087.5 L1516.8 1076.0 L1519.7 1064.6 L1522.7 1053.3 L1525.6 1042.1 L1528.5 1031.0 L1531.5 1020.1 L1534.4 1009.7 L1537.4 999.8 L1540.3 990.6 L1543.3 982.4 L1546.2 975.2 L1549.1 968.7 L1552.1 962.6 L1555.0 956.7 L1558.0 950.8 L1560.9 944.6 L1563.9 937.8 L1566.8 930.6 L1569.7 923.4 L1572.7 916.5 L1575.6 910.0 L1578.6 903.9 L1581.5 898.1 L1584.4 892.6 L1587.4 887.5 L1590.3 882.9 L1593.3 878.8 L1596.2 875.1 L1599.2 871.8 L1602.1 869.0 L1605.0 866.7 L1608.0 865.2 L1610.9 864.3 L1613.9 864.3 L1616.8 864.9 L1619.8 866.1 L1622.7 867.7 L1625.6 869.4 L1628.6 871.7 L1631.5 874.7 L1634.5 878.6 L1637.4 883.4 L1640.3 888.8 L1643.3 894.9 L1646.2 901.6 L1649.2 908.8 L1652.1 916.3 L1655.1 923.8 L1658.0 931.4 L1660.9 939.0 L1663.9 946.7 L1666.8 954.5 L1669.8 962.2 L1672.7 970.1 L1675.7 978.0 L1678.6 986.1 L1681.5 994.7 L1684.5 1003.7 L1687.4 1013.0 L1690.4 1022.5 L1693.3 1032.1 L1696.2 1041.9 L1699.2 1052.1 L1702.1 1062.9 L1705.1 1074.4 L1708.0 1086.0 L1711.0 1097.6 L1713.9 1109.3 L1716.8 1120.9 L1719.8 1132.6 L1722.7 1144.2 L1725.7 1155.9 L1728.6 1167.5 L1731.5 1179.0 L1734.5 1190.5 L1737.4 1202.2 L1740.4 1214.0 L1743.3 1226.1 L1746.3 1238.6 L1749.2 1252.3 L1752.1 1266.5 L1755.1 1280.0 L1758.0 1292.7 L1761.0 1305.0 L1763.9 1316.8 L1766.9 1328.0 L1769.8 1338.1 L1772.7 1347.1 L1775.7 1354.9 L1778.6 1362.0 L1781.6 1368.3 L1784.5 1374.0 L1787.4 1379.2 L1790.4 1384.0 L1793.3 1388.3 L1796.3 1392.0 L1799.2 1395.1 L1802.2 1397.7 L1805.1 1399.7 L1808.0 1400.6 L1811.0 1400.7 L1813.9 1400.6 L1816.9 1400.5 L1819.8 1400.6 L1822.8 1401.0 L1825.7 1401.6 L1828.6 1402.1 L1831.6 1402.2 L1834.5 1402.0 L1837.5 1401.7 L1840.4 1401.4 L1843.3 1401.0 L1846.3 1400.6 L1849.2 1400.2 L1852.2 1399.7 L1855.1 1399.3 L1858.1 1398.8 L1861.0 1398.4 L1863.9 1398.1 L1866.9 1397.7 L1869.8 1397.4 L1872.8 1397.1 L1875.7 1396.8 L1878.6 1396.6 L1881.6 1396.4 L1884.5 1396.3 L1887.5 1396.3 L1890.4 1396.2 L1893.4 1396.2 L1896.3 1396.3" stroke="#58b458" stroke-width="2.0"/>
<path d="M1104.9 1364.5 L1107.8 1361.1 L1110.8 1357.5 L1113.7 1353.5 L1116.7 1349.3 L1119.6 1344.7 L1122.6 1339.9 L1125.5 1334.9 L1128.4 1329.6 L1131.4 1323.9 L1134.3 1317.8 L1137.3 1311.4 L1140.2 1304.9 L1143.1 1298.2 L1146.1 1291.4 L1149.0 1284.4 L1152.0 1277.4 L1154.9 1270.2 L1157.9 1262.9 L1160.8 1255.3 L1163.7 1247.4 L1166.7 1239.4 L1169.6 1231.6 L1172.6 1224.0 L1175.5 1216.5 L1178.5 1209.1 L1181.4 1201.7 L1184.3 1194.6 L1187.3 1187.7 L1190.2 1181.0 L1193.2 1174.5 L1196.1 1168.2 L1199.0 1162.3 L1202.0 1157.2 L1204.9 1152.8 L1207.9 1148.8 L1210.8 1145.0 L1213.8 1141.3 L1216.7 1137.7 L1219.6 1134.1 L1222.6 1130.6 L1225.5 1127.2 L1228.5 1123.8 L1231.4 1120.4 L1234.3 1117.1 L1237.3 1114.1 L1240.2 1111.2 L1243.2 1108.4 L1246.1 1105.7 L1249.1 1103.3 L1252.0 1101.2 L1254.9 1099.4 L1257.9 1097.8 L1260.8 1096.4 L1263.8 1095.4 L1266.7 1094.7 L1269.7 1094.4 L1272.6 1094.3 L1275.5 1094.5 L1278.5 1094.8 L1281.4 1095.6 L1284.4 1096.8 L1287.3 1098.7 L1290.2 1101.5 L1293.2 1105.0 L1296.1 1108.8 L1299.1 1113.0 L1302.0 1117.6 L1305.0 1122.9 L1307.9 1128.7 L1310.8 1135.0 L1313.8 1141.7 L1316.7 1148.8 L1319.7 1156.7 L1322.6 1165.0 L1325.6 1173.3 L1328.5 1181.1 L1331.4 1188.2 L1334.4 1194.7 L1337.3 1200.8 L1340.3 1206.4 L1343.2 1211.6 L1346.1 1216.4 L1349.1 1220.9 L1352.0 1225.1 L1355.0 1229.0 L1357.9 1232.6 L1360.9 1235.7 L1363.8 1238.6 L1366.7 1241.4 L1369.7 1243.9 L1372.6 1246.2 L1375.6 1248.3 L1378.5 1250.4 L1381.5 1252.3 L1384.4 1254.1 L1387.3 1255.8 L1390.3 1257.3 L1393.2 1258.6 L1396.2 1259.6 L1399.1 1260.3 L1402.0 1260.8 L1405.0 1261.1 L1407.9 1261.2 L1410.9 1261.3 L1413.8 1261.2 L1416.8 1261.0 L1419.7 1260.6 L1422.6 1259.9 L1425.6 1259.0 L1428.5 1258.0 L1431.5 1256.7 L1434.4 1255.3 L1437.3 1253.7 L1440.3 1252.0 L1443.2 1250.1 L1446.2 1248.1 L1449.1 1245.8 L1452.1 1243.3 L1455.0 1240.5 L1457.9 1237.6 L1460.9 1234.5 L1463.8 1231.0 L1466.8 1227.0 L1469.7 1222.5 L1472.7 1217.7 L1475.6 1212.0 L1478.5 1205.4 L1481.5 1197.5 L1484.4 1188.1 L1487.4 1177.3 L1490.3 1166.1 L1493.2 1155.0 L1496.2 1143.8 L1499.1 1132.6 L1502.1 1121.4 L1505.0 1110.2 L1508.0 1099.0 L1510.9 1087.7 L1513.8 1076.5 L1516.8 1065.3 L1519.7 1054.1 L1522.7 1043.0 L1525.6 1032.1 L1528.5 1021.6 L1531.5 1011.7 L1534.4 1002.4 L1537.4 994.0 L1540.3 986.4 L1543.3 979.3 L1546.2 972.5 L1549.1 965.9 L1552.1 959.5 L1555.0 953.1 L1558.0 946.6 L1560.9 939.8 L1563.9 932.7 L1566.8 925.5 L1569.7 918.5 L1572.7 911.9 L1575.6 905.9 L1578.6 900.2 L1581.5 894.8 L1584.4 889.6 L1587.4 884.8 L1590.3 880.4 L1593.3 876.4 L1596.2 872.7 L1599.2 869.7 L1602.1 867.2 L1605.0 865.4 L1608.0 864.4 L1610.9 864.2 L1613.9 864.9 L1616.8 866.2 L1619.8 867.9 L1622.7 869.8 L1625.6 872.4 L1628.6 876.1 L1631.5 881.1 L1634.5 887.0 L1637.4 893.7 L1640.3 901.1 L1643.3 909.1 L1646.2 917.5 L1649.2 925.8 L1652.1 934.1 L1655.1 942.4 L1658.0 950.7 L1660.9 959.0 L1663.9 967.3 L1666.8 975.7 L1669.8 984.0 L1672.7 992.8 L1675.7 1001.9 L1678.6 1011.3 L1681.5 1020.8 L1684.5 1030.3 L1687.4 1039.9 L1690.4 1049.5 L1693.3 1059.5 L1696.2 1069.7 L1699.2 1080.4 L1702.1 1091.2 L1705.1 1102.1 L1708.0 1112.8 L1711.0 1123.3 L1713.9 1133.8 L1716.8 1144.2 L1719.8 1154.7 L1722.7 1165.2 L1725.7 1175.6 L1728.6 1186.1 L1731.5 1196.6 L1734.5 1207.2 L1737.4 1218.1 L1740.4 1229.3 L1743.3 1241.0 L1746.3 1253.7 L1749.2 1266.7 L1752.1 1279.1 L1755.1 1291.0 L1758.0 1302.6 L1761.0 1313.9 L1763.9 1324.7 L1766.9 1334.5 L1769.8 1343.3 L1772.7 1351.2 L1775.7 1358.3 L1778.6 1364.7 L1781.6 1370.5 L1784.5 1375.8 L1787.4 1380.8 L1790.4 1385.3 L1793.3 1389.4 L1796.3 1392.7 L1799.2 1395.4 L1802.2 1397.7 L1805.1 1399.4 L1808.0 1400.6 L1811.0 1401.4 L1813.9 1402.1 L1816.9 1402.6 L1819.8 1402.7 L1822.8 1402.7 L1825.7 1402.7 L1828.6 1402.5 L1831.6 1402.2 L1834.5 1401.8 L1837.5 1401.4 L1840.4 1401.0 L1843.3 1400.5 L1846.3 1400.0 L1849.2 1399.5 L1852.2 1399.0 L1855.1 1398.4 L1858.1 1397.9 L1861.0 1397.4 L1863.9 1396.8 L1866.9 1396.4 L1869.8 1396.0 L1872.8 1395.7 L1875.7 1395.7 L1878.6 1396.0 L1881.6 1396.4 L1884.5 1396.8 L1887.5 1397.3 L1890.4 1397.8 L1893.4 1398.3 L1896.3 1399.0" stroke="#bababa" stroke-width="2.4"/>
<path d="M1104.9 1371.0 L1107.8 1367.7 L1110.8 1364.2 L1113.7 1360.5 L1116.7 1356.4 L1119.6 1352.2 L1122.6 1347.7 L1125.5 1342.9 L1128.4 1337.9 L1131.4 1332.6 L1134.3 1326.9 L1137.3 1320.9 L1140.2 1314.8 L1143.1 1308.4 L1146.1 1301.9 L1149.0 1295.1 L1152.0 1288.3 L1154.9 1281.3 L1157.9 1274.1 L1160.8 1266.6 L1163.7 1258.8 L1166.7 1250.8 L1169.6 1242.7 L1172.6 1234.9 L1175.5 1227.2 L1178.5 1219.6 L1181.4 1212.2 L1184.3 1204.8 L1187.3 1197.6 L1190.2 1190.6 L1193.2 1183.9 L1196.1 1177.3 L1199.0 1171.0 L1202.0 1165.1 L1204.9 1160.1 L1207.9 1155.7 L1210.8 1151.6 L1213.8 1147.7 L1216.7 1143.9 L1219.6 1140.2 L1222.6 1136.4 L1225.5 1132.7 L1228.5 1129.1 L1231.4 1125.5 L1234.3 1121.9 L1237.3 1118.4 L1240.2 1115.2 L1243.2 1112.1 L1246.1 1109.1 L1249.1 1106.3 L1252.0 1103.7 L1254.9 1101.4 L1257.9 1099.5 L1260.8 1097.7 L1263.8 1096.2 L1266.7 1095.1 L1269.7 1094.2 L1272.6 1093.7 L1275.5 1093.5 L1278.5 1093.5 L1281.4 1093.9 L1284.4 1094.7 L1287.3 1096.2 L1290.2 1098.4 L1293.2 1101.4 L1296.1 1105.0 L1299.1 1108.9 L1302.0 1113.2 L1305.0 1118.0 L1307.9 1123.4 L1310.8 1129.4 L1313.8 1135.9 L1316.7 1142.7 L1319.7 1150.0 L1322.6 1158.0 L1325.6 1166.4 L1328.5 1174.7 L1331.4 1182.5 L1334.4 1189.5 L1337.3 1196.1 L1340.3 1202.3 L1343.2 1208.1 L1346.1 1213.5 L1349.1 1218.5 L1352.0 1223.2 L1355.0 1227.7 L1357.9 1231.9 L1360.9 1235.7 L1363.8 1239.0 L1366.7 1242.2 L1369.7 1245.2 L1372.6 1248.0 L1375.6 1250.5 L1378.5 1252.9 L1381.5 1255.3 L1384.4 1257.5 L1387.3 1259.6 L1390.3 1261.5 L1393.2 1263.3 L1396.2 1264.8 L1399.1 1266.1 L1402.0 1267.2 L1405.0 1268.0 L1407.9 1268.5 L1410.9 1268.8 L1413.8 1268.9 L1416.8 1268.7 L1419.7 1268.3 L1422.6 1267.7 L1425.6 1266.9 L1428.5 1265.9 L1431.5 1264.7 L1434.4 1263.4 L1437.3 1261.9 L1440.3 1260.2 L1443.2 1258.4 L1446.2 1256.4 L1449.1 1254.2 L1452.1 1251.8 L1455.0 1248.9 L1457.9 1245.7 L1460.9 1242.4 L1463.8 1238.8 L1466.8 1234.6 L1469.7 1229.9 L1472.7 1224.7 L1475.6 1218.7 L1478.5 1211.9 L1481.5 1204.0 L1484.4 1194.8 L1487.4 1184.3 L1490.3 1172.9 L1493.2 1161.2 L1496.2 1149.5 L1499.1 1137.9 L1502.1 1126.4 L1505.0 1115.1 L1508.0 1103.8 L1510.9 1092.5 L1513.8 1081.3 L1516.8 1070.1 L1519.7 1058.9 L1522.7 1047.8 L1525.6 1036.8 L1528.5 1026.1 L1531.5 1015.9 L1534.4 1006.2 L1537.4 997.4 L1540.3 989.5 L1543.3 982.2 L1546.2 975.3 L1549.1 968.6 L1552.1 962.1 L1555.0 955.7 L1558.0 949.3 L1560.9 942.6 L1563.9 935.6 L1566.8 928.4 L1569.7 921.3 L1572.7 914.5 L1575.6 908.1 L1578.6 902.1 L1581.5 896.5 L1584.4 891.1 L1587.4 886.0 L1590.3 881.4 L1593.3 877.2 L1596.2 873.3 L1599.2 870.1 L1602.1 867.5 L1605.0 865.5 L1608.0 864.4 L1610.9 864.2 L1613.9 864.9 L1616.8 866.2 L1619.8 867.9 L1622.7 869.8 L1625.6 872.4 L1628.6 876.1 L1631.5 881.1 L1634.5 887.0 L1637.4 893.7 L1640.3 901.1 L1643.3 909.1 L1646.2 917.5 L1649.2 925.8 L1652.1 934.1 L1655.1 942.4 L1658.0 950.7 L1660.9 959.0 L1663.9 967.3 L1666.8 975.7 L1669.8 984.0 L1672.7 992.8 L1675.7 1001.9 L1678.6 1011.3 L1681.5 1020.8 L1684.5 1030.3 L1687.4 1039.9 L1690.4 1049.5 L1693.3 1059.5 L1696.2 1069.7 L1699.2 1080.4 L1702.1 1091.2 L1705.1 1102.1 L1708.0 1112.8 L1711.0 1123.3 L1713.9 1133.8 L1716.8 1144.2 L1719.8 1154.7 L1722.7 1165.2 L1725.7 1175.6 L1728.6 1186.1 L1731.5 1196.6 L1734.5 1207.2 L1737.4 1218.1 L1740.4 1229.3 L1743.3 1241.0 L1746.3 1253.7 L1749.2 1266.7 L1752.1 1279.1 L1755.1 1291.0 L1758.0 1302.6 L1761.0 1313.9 L1763.9 1324.7 L1766.9 1334.5 L1769.8 1343.3 L1772.7 1351.2 L1775.7 1358.3 L1778.6 1364.7 L1781.6 1370.5 L1784.5 1375.8 L1787.4 1380.8 L1790.4 1385.3 L1793.3 1389.4 L1796.3 1392.7 L1799.2 1395.4 L1802.2 1397.7 L1805.1 1399.4 L1808.0 1400.6 L1811.0 1401.4 L1813.9 1402.1 L1816.9 1402.6 L1819.8 1402.7 L1822.8 1402.7 L1825.7 1402.7 L1828.6 1402.5 L1831.6 1402.2 L1834.5 1401.8 L1837.5 1401.4 L1840.4 1401.0 L1843.3 1400.5 L1846.3 1400.0 L1849.2 1399.5 L1852.2 1399.0 L1855.1 1398.4 L1858.1 1397.9 L1861.0 1397.4 L1863.9 1396.8 L1866.9 1396.4 L1869.8 1396.0 L1872.8 1395.7 L1875.7 1395.7 L1878.6 1396.0 L1881.6 1396.4 L1884.5 1396.8 L1887.5 1397.3 L1890.4 1397.8 L1893.4 1398.3 L1896.3 1399.0" stroke="#585858" stroke-width="2.2"/>
<path d="M1104.9 1345.7 L1107.8 1342.1 L1110.8 1338.2 L1113.7 1333.8 L1116.7 1329.0 L1119.6 1323.9 L1122.6 1318.6 L1125.5 1313.1 L1128.4 1307.2 L1131.4 1301.1 L1134.3 1294.7 L1137.3 1288.2 L1140.2 1281.8 L1143.1 1275.3 L1146.1 1268.8 L1149.0 1262.2 L1152.0 1255.7 L1154.9 1249.2 L1157.9 1242.6 L1160.8 1236.0 L1163.7 1229.2 L1166.7 1222.1 L1169.6 1215.0 L1172.6 1207.9 L1175.5 1201.0 L1178.5 1194.2 L1181.4 1187.6 L1184.3 1181.0 L1187.3 1174.6 L1190.2 1168.2 L1193.2 1161.9 L1196.1 1155.9 L1199.0 1150.3 L1202.0 1145.0 L1204.9 1140.2 L1207.9 1135.8 L1210.8 1131.8 L1213.8 1128.4 L1216.7 1125.1 L1219.6 1121.9 L1222.6 1118.7 L1225.5 1115.4 L1228.5 1112.2 L1231.4 1109.0 L1234.3 1105.8 L1237.3 1102.5 L1240.2 1099.5 L1243.2 1096.7 L1246.1 1094.2 L1249.1 1091.8 L1252.0 1089.6 L1254.9 1087.8 L1257.9 1086.2 L1260.8 1084.8 L1263.8 1083.5 L1266.7 1082.5 L1269.7 1081.8 L1272.6 1081.4 L1275.5 1081.5 L1278.5 1081.8 L1281.4 1082.4 L1284.4 1083.3 L1287.3 1084.4 L1290.2 1085.9 L1293.2 1087.8 L1296.1 1090.4 L1299.1 1093.4 L1302.0 1096.7 L1305.0 1100.3 L1307.9 1104.7 L1310.8 1110.1 L1313.8 1116.1 L1316.7 1122.2 L1319.7 1128.4 L1322.6 1134.5 L1325.6 1140.7 L1328.5 1147.0 L1331.4 1153.2 L1334.4 1159.5 L1337.3 1165.7 L1340.3 1171.9 L1343.2 1177.8 L1346.1 1183.3 L1349.1 1188.4 L1352.0 1193.2 L1355.0 1197.8 L1357.9 1202.1 L1360.9 1206.2 L1363.8 1209.9 L1366.7 1213.4 L1369.7 1216.6 L1372.6 1219.5 L1375.6 1222.2 L1378.5 1224.7 L1381.5 1227.0 L1384.4 1229.0 L1387.3 1230.7 L1390.3 1232.4 L1393.2 1233.8 L1396.2 1235.0 L1399.1 1236.0 L1402.0 1236.7 L1405.0 1237.3 L1407.9 1237.7 L1410.9 1238.0 L1413.8 1238.1 L1416.8 1238.1 L1419.7 1237.9 L1422.6 1237.6 L1425.6 1237.1 L1428.5 1236.5 L1431.5 1235.6 L1434.4 1234.5 L1437.3 1233.2 L1440.3 1231.7 L1443.2 1230.0 L1446.2 1228.2 L1449.1 1226.0 L1452.1 1223.6 L1455.0 1220.9 L1457.9 1218.2 L1460.9 1215.1 L1463.8 1211.5 L1466.8 1207.3 L1469.7 1202.8 L1472.7 1197.8 L1475.6 1192.3 L1478.5 1186.0 L1481.5 1178.6 L1484.4 1170.1 L1487.4 1160.1 L1490.3 1149.2 L1493.2 1138.0 L1496.2 1126.6 L1499.1 1115.1 L1502.1 1103.6 L1505.0 1091.8 L1508.0 1079.7 L1510.9 1067.6 L1513.8 1055.7 L1516.8 1044.4 L1519.7 1035.3 L1522.7 1028.7 L1525.6 1023.2 L1528.5 1017.3 L1531.5 1009.5 L1534.4 1000.1 L1537.4 990.8 L1540.3 981.5 L1543.3 972.2 L1546.2 963.0 L1549.1 953.8 L1552.1 944.9 L1555.0 936.3 L1558.0 928.3 L1560.9 921.2 L1563.9 914.8 L1566.8 908.8 L1569.7 903.4 L1572.7 898.6 L1575.6 894.4 L1578.6 890.4 L1581.5 886.8 L1584.4 883.4 L1587.4 880.2 L1590.3 877.1 L1593.3 874.4 L1596.2 871.9 L1599.2 869.6 L1602.1 867.5 L1605.0 865.9 L1608.0 864.7 L1610.9 863.9 L1613.9 864.3 L1616.8 865.5 L1619.8 867.3 L1622.7 869.6 L1625.6 872.6 L1628.6 876.2 L1631.5 880.4 L1634.5 885.0 L1637.4 890.1 L1640.3 895.8 L1643.3 902.4 L1646.2 910.0 L1649.2 918.0 L1652.1 926.1 L1655.1 934.2 L1658.0 942.4 L1660.9 950.7 L1663.9 958.9 L1666.8 967.2 L1669.8 975.6 L1672.7 984.1 L1675.7 992.9 L1678.6 1002.1 L1681.5 1011.4 L1684.5 1020.9 L1687.4 1030.3 L1690.4 1039.8 L1693.3 1049.4 L1696.2 1059.3 L1699.2 1069.7 L1702.1 1080.5 L1705.1 1091.4 L1708.0 1102.3 L1711.0 1113.3 L1713.9 1124.3 L1716.8 1135.3 L1719.8 1146.3 L1722.7 1157.3 L1725.7 1168.3 L1728.6 1179.2 L1731.5 1190.2 L1734.5 1201.3 L1737.4 1212.6 L1740.4 1224.2 L1743.3 1236.0 L1746.3 1248.9 L1749.2 1262.4 L1752.1 1275.6 L1755.1 1287.9 L1758.0 1299.7 L1761.0 1311.2 L1763.9 1322.2 L1766.9 1332.3 L1769.8 1341.5 L1772.7 1349.7 L1775.7 1357.0 L1778.6 1363.7 L1781.6 1369.7 L1784.5 1375.1 L1787.4 1380.1 L1790.4 1384.8 L1793.3 1388.9 L1796.3 1392.4 L1799.2 1395.4 L1802.2 1397.8 L1805.1 1399.7 L1808.0 1400.6 L1811.0 1400.9 L1813.9 1401.1 L1816.9 1401.2 L1819.8 1401.1 L1822.8 1401.0 L1825.7 1400.9 L1828.6 1400.7 L1831.6 1400.4 L1834.5 1400.0 L1837.5 1399.5 L1840.4 1398.9 L1843.3 1398.3 L1846.3 1397.6 L1849.2 1396.8 L1852.2 1396.0 L1855.1 1395.1 L1858.1 1394.2 L1861.0 1393.3 L1863.9 1392.5 L1866.9 1391.7 L1869.8 1391.0 L1872.8 1390.4 L1875.7 1389.8 L1878.6 1389.3 L1881.6 1388.9 L1884.5 1388.6 L1887.5 1388.5 L1890.4 1388.5 L1893.4 1388.6 L1896.3 1388.8" stroke="#78c478" stroke-width="1.9" stroke-dasharray="3.6 5.4"/>
</g>
<g stroke-linecap="butt">
<line x1="1086.5" y1="1407.8" x2="1898.1" y2="1407.8" stroke="#1a1a1a" stroke-width="2.9"/>
<line x1="1088.0" y1="809.2" x2="1088.0" y2="1414.3" stroke="#3c3c3c" stroke-width="3.5"/>
<line x1="1074.5" y1="1402.2" x2="1088.0" y2="1402.2" stroke="#363636" stroke-width="2.7"/>
<line x1="1081.0" y1="1348.4" x2="1088.0" y2="1348.4" stroke="#363636" stroke-width="2.7"/>
<line x1="1074.5" y1="1294.6" x2="1088.0" y2="1294.6" stroke="#363636" stroke-width="2.7"/>
<line x1="1081.0" y1="1240.8" x2="1088.0" y2="1240.8" stroke="#363636" stroke-width="2.7"/>
<line x1="1074.5" y1="1187.0" x2="1088.0" y2="1187.0" stroke="#363636" stroke-width="2.7"/>
<line x1="1081.0" y1="1133.2" x2="1088.0" y2="1133.2" stroke="#363636" stroke-width="2.7"/>
<line x1="1074.5" y1="1079.4" x2="1088.0" y2="1079.4" stroke="#363636" stroke-width="2.7"/>
<line x1="1081.0" y1="1025.6" x2="1088.0" y2="1025.6" stroke="#363636" stroke-width="2.7"/>
<line x1="1074.5" y1="971.8" x2="1088.0" y2="971.8" stroke="#363636" stroke-width="2.7"/>
<line x1="1081.0" y1="918.0" x2="1088.0" y2="918.0" stroke="#363636" stroke-width="2.7"/>
<line x1="1074.5" y1="864.2" x2="1088.0" y2="864.2" stroke="#363636" stroke-width="2.7"/>
<line x1="1081.0" y1="810.4" x2="1088.0" y2="810.4" stroke="#363636" stroke-width="2.7"/>
<line x1="1160.8" y1="1407.8" x2="1160.8" y2="1420.6" stroke="#363636" stroke-width="2.9"/>
<line x1="1234.3" y1="1407.8" x2="1234.3" y2="1415.3" stroke="#363636" stroke-width="2.9"/>
<line x1="1307.9" y1="1407.8" x2="1307.9" y2="1420.6" stroke="#363636" stroke-width="2.9"/>
<line x1="1381.5" y1="1407.8" x2="1381.5" y2="1415.3" stroke="#363636" stroke-width="2.9"/>
<line x1="1455.0" y1="1407.8" x2="1455.0" y2="1420.6" stroke="#363636" stroke-width="2.9"/>
<line x1="1528.5" y1="1407.8" x2="1528.5" y2="1415.3" stroke="#363636" stroke-width="2.9"/>
<line x1="1602.1" y1="1407.8" x2="1602.1" y2="1420.6" stroke="#363636" stroke-width="2.9"/>
<line x1="1675.7" y1="1407.8" x2="1675.7" y2="1415.3" stroke="#363636" stroke-width="2.9"/>
<line x1="1749.2" y1="1407.8" x2="1749.2" y2="1420.6" stroke="#363636" stroke-width="2.9"/>
<line x1="1822.8" y1="1407.8" x2="1822.8" y2="1415.3" stroke="#363636" stroke-width="2.9"/>
<line x1="1896.3" y1="1407.8" x2="1896.3" y2="1420.6" stroke="#363636" stroke-width="2.9"/>
</g>
<g font-family='"Liberation Serif", "DejaVu Serif", serif' font-size="21.5" fill="#454545" stroke="#454545" stroke-width="0.5">
<text x="1067.2" y="1406.2" text-anchor="end" textLength="25.5" lengthAdjust="spacingAndGlyphs">0.0</text>
<text x="1067.2" y="1298.6" text-anchor="end" textLength="25.5" lengthAdjust="spacingAndGlyphs">0.2</text>
<text x="1067.2" y="1191.0" text-anchor="end" textLength="25.5" lengthAdjust="spacingAndGlyphs">0.4</text>
<text x="1067.2" y="1083.4" text-anchor="end" textLength="25.5" lengthAdjust="spacingAndGlyphs">0.6</text>
<text x="1067.2" y="975.8" text-anchor="end" textLength="25.5" lengthAdjust="spacingAndGlyphs">0.8</text>
<text x="1067.2" y="868.2" text-anchor="end" textLength="25.5" lengthAdjust="spacingAndGlyphs">1.0</text>
<text x="1161.1" y="1440.2" text-anchor="middle" textLength="40.5" lengthAdjust="spacingAndGlyphs">1500</text>
<text x="1308.2" y="1440.2" text-anchor="middle" textLength="40.5" lengthAdjust="spacingAndGlyphs">1550</text>
<text x="1455.3" y="1440.2" text-anchor="middle" textLength="40.5" lengthAdjust="spacingAndGlyphs">1600</text>
<text x="1602.4" y="1440.2" text-anchor="middle" textLength="40.5" lengthAdjust="spacingAndGlyphs">1650</text>
<text x="1749.5" y="1440.2" text-anchor="middle" textLength="40.5" lengthAdjust="spacingAndGlyphs">1700</text>
<text x="1896.6" y="1440.2" text-anchor="middle" textLength="40.5" lengthAdjust="spacingAndGlyphs">1750</text>
</g>
<line x1="1112.2" y1="832.5" x2="1178.1" y2="832.5" stroke="#58b458" stroke-width="2.2"/>
<line x1="1112.2" y1="867.7" x2="1178.1" y2="867.7" stroke="#bababa" stroke-width="2.0"/>
<line x1="1112.2" y1="904.2" x2="1178.1" y2="904.2" stroke="#585858" stroke-width="3.0"/>
<line x1="1112.2" y1="939.5" x2="1173.2" y2="939.5" stroke="#78c478" stroke-width="2.4" stroke-dasharray="4.2 4.8"/>
<g font-family='"Liberation Serif", "DejaVu Serif", serif' font-size="25.3" fill="#303030" stroke="#303030" stroke-width="0.5">
<text x="1183.5" y="843.0" textLength="271.0" lengthAdjust="spacingAndGlyphs">Pinene-alginate/fucoidan</text>
<text x="1183.5" y="878.0" textLength="195.0" lengthAdjust="spacingAndGlyphs">Alginate/fucoidan</text>
<text x="1183.5" y="913.0" textLength="108.0" lengthAdjust="spacingAndGlyphs">Untreated</text>
<text x="1183.5" y="949.0" textLength="75.0" lengthAdjust="spacingAndGlyphs">Pinene</text>
</g>
<g font-family='"Liberation Serif", "DejaVu Serif", serif' fill="#303030" stroke="#303030" stroke-width="0.45">
<text transform="translate(1013.5 1113.0) rotate(-90)" text-anchor="middle" font-size="26" textLength="127.0" lengthAdjust="spacingAndGlyphs">Absorbance</text>
<text font-size="25.6"><tspan x="1385.3" y="1494.0" textLength="193.0" lengthAdjust="spacingAndGlyphs">Wavenumber (cm</tspan><tspan x="1580.0" y="1477.0" font-size="16" textLength="16.0" lengthAdjust="spacingAndGlyphs">−1</tspan><tspan x="1597.0" y="1494.0">)</tspan></text>
</g>
<text x="1435.0" y="1547.0" font-family='"Liberation Serif", "DejaVu Serif", serif' font-size="50" font-weight="bold" fill="#0a0a0a" textLength="67.0" lengthAdjust="spacingAndGlyphs"><tspan dy="-5">(</tspan><tspan dy="5">d</tspan><tspan dy="-5">)</tspan></text>
</g>
</svg>
</body>
</html>
